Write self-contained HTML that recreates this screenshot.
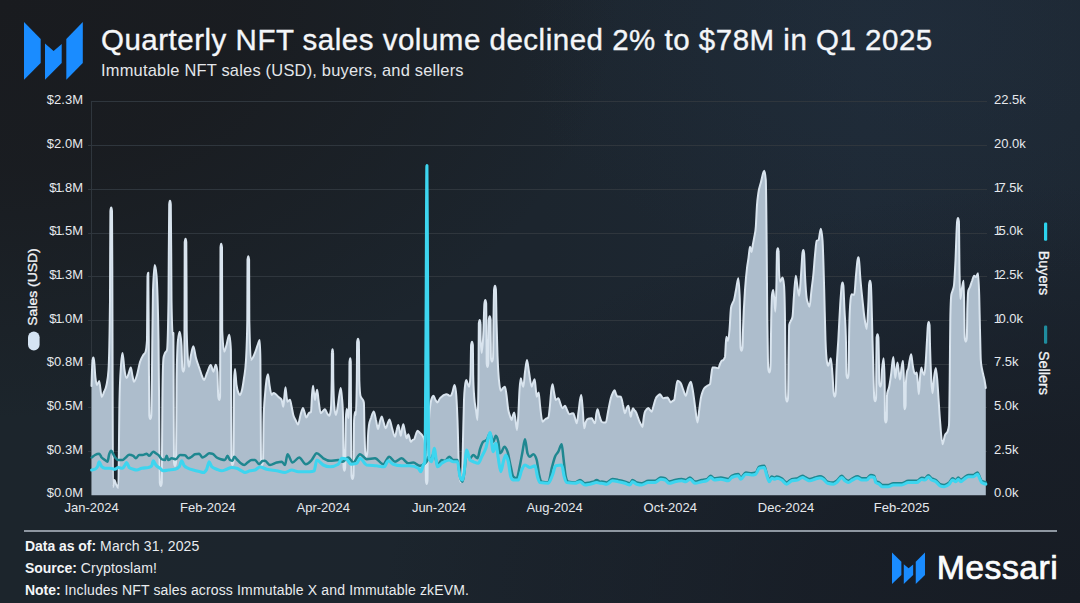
<!DOCTYPE html>
<html>
<head>
<meta charset="utf-8">
<title>Quarterly NFT sales volume</title>
<style>
html,body{margin:0;padding:0;}
body{width:1080px;height:603px;overflow:hidden;position:relative;
  font-family:"Liberation Sans",sans-serif;color:#f2f4f7;
  background:#1b222b;}
#bg{position:absolute;left:0;top:0;width:1080px;height:603px;
  background:
   radial-gradient(ellipse 420px 260px at 930px 30px, rgba(36,52,70,0.3) 0%, rgba(36,52,70,0) 100%),
   radial-gradient(ellipse 620px 420px at 0px 0px, rgba(25,27,31,1) 0%, rgba(25,27,31,0.85) 40%, rgba(25,27,31,0) 100%),
   radial-gradient(ellipse 700px 420px at 1080px 603px, rgba(23,28,36,1) 0%, rgba(23,28,36,0.8) 40%, rgba(23,28,36,0) 100%),
   linear-gradient(90deg,#1c252c 0%, #1c252e 50%, #1e2935 80%, #1d2732 100%);}
.abs{position:absolute;white-space:nowrap;}
#title{left:101px;top:22.8px;font-size:28.6px;line-height:34px;color:#f4f6f9;letter-spacing:0.5px;-webkit-text-stroke:0.35px #f4f6f9;transform-origin:0 50%;transform:scaleX(1.031);}
#subtitle{left:100.5px;top:59.6px;font-size:16.2px;line-height:20px;color:#e3e6ea;letter-spacing:0.2px;transform-origin:0 50%;transform:scaleX(1.016);}
.yl{position:absolute;right:997px;width:60px;text-align:right;font-size:13px;line-height:14px;color:#e6e9ed;white-space:nowrap;}
.yr{position:absolute;left:994px;font-size:13px;line-height:14px;color:#e6e9ed;white-space:nowrap;}
.n1{margin:0 -1.25px;}
.yr .n1{margin:0 -2.5px 0 -0.3px;}
.xl{position:absolute;top:500.6px;width:80px;margin-left:-40px;text-align:center;font-size:13px;line-height:14px;color:#e6e9ed;white-space:nowrap;}
.rot{position:absolute;font-size:14px;line-height:14px;color:#f2f4f7;white-space:nowrap;-webkit-text-stroke:0.3px #f2f4f7;}
#foot{position:absolute;left:25px;top:534.8px;letter-spacing:0.15px;font-size:14px;line-height:22px;color:#e9ecef;white-space:nowrap;}
#foot b{color:#f4f6f8;letter-spacing:-0.05px;}
#brand{position:absolute;left:936.7px;top:548.4px;font-size:33.8px;line-height:38px;color:#fbfcfd;-webkit-text-stroke:0.7px #fbfcfd;letter-spacing:0.45px;}
#sep{position:absolute;left:24px;top:530px;width:1033px;height:1.6px;background:#8e97a1;}
svg{position:absolute;left:0;top:0;}
</style>
</head>
<body>
<div id="bg"></div>

<!-- chart svg -->
<svg id="chart" width="1080" height="603" viewBox="0 0 1080 603">
  <g stroke="#2f363d" stroke-width="1" fill="none">
    <line x1="91" y1="101.5" x2="987" y2="101.5"/>
    <line x1="88" y1="145.5" x2="987" y2="145.5"/>
    <line x1="88" y1="189.5" x2="987" y2="189.5"/>
    <line x1="88" y1="233.5" x2="987" y2="233.5"/>
    <line x1="88" y1="276.5" x2="987" y2="276.5"/>
    <line x1="88" y1="320.5" x2="987" y2="320.5"/>
    <line x1="88" y1="364.5" x2="987" y2="364.5"/>
    <line x1="88" y1="407.5" x2="987" y2="407.5"/>
    <line x1="88" y1="451.5" x2="987" y2="451.5"/>
    <line x1="91.5" y1="101" x2="91.5" y2="495"/>
  </g>
  
  <path d="M91.5,386.0C91.8,377.7 92.1,363.6 92.5,361.0C92.7,358.7 93.0,357.5 93.3,357.5C93.6,357.5 93.9,358.9 94.1,361.0C94.6,364.3 95.0,374.0 95.5,378.0C96.0,382.4 96.5,385.0 97.0,385.0C97.7,385.0 98.5,381.0 99.2,381.0C100.0,381.0 100.9,397.0 101.7,397.0C102.5,397.0 103.2,393.9 104.0,392.0C104.8,389.9 105.7,389.5 106.5,385.0C107.2,381.4 107.8,380.0 108.5,370.0C109.0,362.5 109.5,346.7 110.0,300.0C110.1,289.1 110.2,212.0 110.4,211.0C110.6,208.7 110.9,207.5 111.2,207.5C111.5,207.5 111.8,208.7 112.0,211.0C112.2,212.0 112.3,267.9 112.4,300.0C112.6,355.1 112.8,487.0 113.0,487.0C113.5,487.0 114.0,480.0 114.5,480.0C115.0,480.0 115.5,482.8 116.0,484.0C116.8,485.8 117.5,488.0 118.3,488.0C118.7,488.0 119.1,418.7 119.5,400.0C120.0,376.7 120.5,372.8 121.0,365.0C121.5,357.2 122.0,353.0 122.5,353.0C123.2,353.0 123.8,365.9 124.5,370.0C125.2,374.5 126.0,378.0 126.7,378.0C127.3,378.0 127.9,375.5 128.5,374.0C129.3,372.1 130.0,367.5 130.8,367.5C131.4,367.5 131.9,373.5 132.5,376.0C133.0,378.2 133.5,381.7 134.0,381.7C135.0,381.7 136.0,378.3 137.0,375.0C138.0,371.7 139.0,365.3 140.0,362.0C141.1,358.4 142.2,356.8 143.3,355.0C144.0,353.8 144.8,354.0 145.5,352.0C146.0,350.6 146.5,348.0 147.0,340.0C147.2,337.6 147.3,277.5 147.5,276.3C147.7,274.0 148.0,272.8 148.3,272.8C148.5,272.8 148.6,318.4 148.8,340.0C148.9,366.4 149.1,414.2 149.3,415.5C149.6,417.8 150.0,419.0 150.3,419.0C150.6,419.0 151.0,417.8 151.3,415.5C151.5,414.2 151.7,392.6 151.9,380.0C152.2,353.6 152.6,301.3 153.0,290.0C153.6,273.3 154.1,265.0 154.7,265.0C155.3,265.0 155.9,268.3 156.5,275.0C157.2,282.4 157.8,296.7 158.5,340.0C158.8,356.2 159.0,392.3 159.2,420.0C159.4,440.3 159.6,481.2 159.8,482.5C160.1,484.8 160.5,486.0 160.8,486.0C161.1,486.0 161.5,484.8 161.8,482.5C162.0,481.2 162.2,413.4 162.4,400.0C162.7,372.0 163.1,360.6 163.5,358.0C164.0,354.7 164.5,354.3 165.0,353.0C165.7,351.3 166.3,352.0 167.0,350.0C167.5,348.5 168.0,333.3 168.5,300.0C168.7,285.6 168.9,206.1 169.2,204.3C169.4,202.0 169.7,200.8 170.0,200.8C170.3,200.8 170.6,202.0 170.8,204.3C171.1,206.1 171.3,288.0 171.5,300.0C171.9,324.0 172.4,336.0 172.8,336.0C173.0,336.0 173.2,333.0 173.4,333.0C173.6,333.0 173.8,461.2 174.0,462.5C174.3,464.8 174.7,466.0 175.0,466.0C175.3,466.0 175.7,464.8 176.0,462.5C176.2,461.2 176.4,390.1 176.6,380.0C177.0,353.3 177.5,344.7 178.0,340.0C178.6,334.5 179.1,331.7 179.7,331.7C180.3,331.7 180.9,336.1 181.5,345.0C181.8,348.9 182.0,366.3 182.3,368.2C182.6,370.5 183.0,371.7 183.3,371.7C183.6,371.7 184.0,370.5 184.3,368.2C184.4,367.7 184.4,351.0 184.5,330.0C184.6,309.0 184.6,242.8 184.7,242.2C185.0,239.9 185.2,238.7 185.5,238.7C185.8,238.7 186.1,239.9 186.3,242.2C186.5,243.2 186.6,324.6 186.7,330.0C187.1,350.0 187.6,354.2 188.0,360.0C188.3,364.5 188.7,366.7 189.0,366.7C189.7,366.7 190.3,358.3 191.0,355.0C191.8,351.3 192.5,346.3 193.3,346.3C194.2,346.3 195.1,354.6 196.0,358.0C197.3,363.1 198.7,366.0 200.0,370.0C200.7,372.0 201.3,374.3 202.0,376.0C202.7,377.7 203.3,380.0 204.0,380.0C205.0,380.0 206.0,375.2 207.0,373.0C208.3,370.2 209.5,365.0 210.8,365.0C211.6,365.0 212.5,371.7 213.3,371.7C214.1,371.7 215.0,364.7 215.8,364.7C216.4,364.7 216.9,367.1 217.5,372.0C217.7,374.0 218.0,394.9 218.2,396.5C218.5,398.8 218.9,400.0 219.2,400.0C219.5,400.0 219.8,398.8 220.1,396.5C220.2,396.0 220.2,354.9 220.3,330.0C220.4,305.1 220.4,248.0 220.5,247.3C220.7,245.0 221.0,243.8 221.2,243.8C221.5,243.8 221.7,245.0 222.0,247.3C222.1,247.9 222.1,328.6 222.2,330.0C222.9,344.5 223.5,351.7 224.2,351.7C225.0,351.7 225.7,347.6 226.5,345.0C227.4,342.0 228.3,334.7 229.2,334.7C229.8,334.7 230.4,339.8 230.9,350.0C231.1,353.2 231.3,460.2 231.5,461.5C231.8,463.8 232.2,465.0 232.5,465.0C232.8,465.0 233.2,463.8 233.5,461.5C233.7,460.2 233.9,384.2 234.1,380.0C234.4,372.7 234.7,369.0 235.0,369.0C235.5,369.0 236.0,381.1 236.5,385.0C237.2,390.2 237.8,391.3 238.5,393.0C239.0,394.2 239.5,395.0 240.0,395.0C240.7,395.0 241.3,392.8 242.0,390.0C242.7,387.2 243.3,383.0 244.0,378.0C244.7,373.0 245.3,372.0 246.0,360.0C246.4,352.2 246.9,346.7 247.3,320.0C247.4,315.9 247.4,260.3 247.5,259.7C247.8,257.4 248.0,256.2 248.3,256.2C248.6,256.2 248.8,257.4 249.1,259.7C249.2,260.3 249.2,316.9 249.3,320.0C249.9,346.7 250.4,360.0 251.0,360.0C251.8,360.0 252.5,358.2 253.3,356.7C254.2,355.0 255.1,352.5 256.0,350.0C256.7,348.1 257.3,345.8 258.0,344.0C258.6,342.5 259.1,340.0 259.7,340.0C259.9,340.0 260.2,346.7 260.4,360.0C260.6,369.8 260.8,460.2 261.0,461.5C261.3,463.8 261.7,465.0 262.0,465.0C262.3,465.0 262.7,463.8 263.0,461.5C263.2,460.2 263.4,426.3 263.6,420.0C264.0,403.3 264.5,401.6 265.0,395.0C265.5,388.2 266.0,383.5 266.5,380.0C267.0,376.5 267.5,374.2 268.0,374.2C268.5,374.2 269.0,381.9 269.5,385.0C270.2,389.5 271.0,395.0 271.7,395.0C272.3,395.0 272.9,393.0 273.5,393.0C274.3,393.0 275.0,393.6 275.8,394.2C276.7,394.9 277.6,396.1 278.5,397.0C279.6,398.1 280.6,398.0 281.7,400.0C282.2,401.0 282.8,406.7 283.3,406.7C283.7,406.7 284.1,398.5 284.5,395.0C284.8,392.1 285.2,387.2 285.5,387.2C285.8,387.2 286.2,393.6 286.5,396.0C286.8,398.4 287.2,401.7 287.5,401.7C288.3,401.7 289.2,399.7 290.0,399.7C290.5,399.7 291.0,403.7 291.5,406.0C292.1,408.7 292.7,412.7 293.3,415.0C294.0,417.8 294.8,418.5 295.5,420.0C296.3,421.7 297.2,424.5 298.0,424.5C298.8,424.5 299.7,417.8 300.5,415.0C301.3,412.2 302.2,408.0 303.0,408.0C303.5,408.0 304.0,410.6 304.5,412.0C305.1,413.7 305.7,417.5 306.3,417.5C307.2,417.5 308.1,413.9 309.0,413.0C309.7,412.3 310.3,412.7 311.0,412.0C311.3,411.7 311.7,399.4 312.0,395.0C312.3,390.6 312.7,385.8 313.0,385.8C313.3,385.8 313.7,390.6 314.0,393.0C314.3,395.4 314.7,400.0 315.0,400.0C315.3,400.0 315.7,395.6 316.0,394.0C316.4,392.0 316.8,389.7 317.2,389.7C317.6,389.7 318.1,396.9 318.5,400.0C319.3,405.5 320.0,413.3 320.8,413.3C321.5,413.3 322.3,411.7 323.0,411.0C323.7,410.4 324.3,409.2 325.0,409.2C325.7,409.2 326.3,411.9 327.0,413.0C327.7,414.2 328.5,415.8 329.2,415.8C329.7,415.8 330.3,413.9 330.8,410.0C331.1,407.8 331.4,400.0 331.7,380.0C331.8,375.6 331.8,353.5 331.9,352.7C332.1,350.4 332.3,349.2 332.5,349.2C332.7,349.2 332.9,350.4 333.1,352.7C333.2,353.5 333.2,376.3 333.3,380.0C333.6,396.7 333.9,401.3 334.2,405.0C334.7,411.7 335.3,415.0 335.8,415.0C336.4,415.0 336.9,411.2 337.5,408.0C338.1,404.6 338.7,398.5 339.3,395.0C339.8,392.1 340.3,388.0 340.8,388.0C341.2,388.0 341.6,393.0 342.0,398.0C342.3,401.7 342.6,402.7 342.9,412.0C343.1,417.2 343.2,436.1 343.4,450.0C343.5,455.6 343.5,466.7 343.6,467.3C343.9,469.6 344.1,470.8 344.4,470.8C344.7,470.8 344.9,469.6 345.2,467.3C345.3,466.7 345.3,455.3 345.4,450.0C345.6,436.7 345.7,421.7 345.9,418.0C346.2,412.0 346.4,409.0 346.7,409.0C347.0,409.0 347.4,411.2 347.7,413.0C348.0,414.4 348.2,418.0 348.5,418.0C348.8,418.0 349.0,407.0 349.3,385.0C349.4,379.5 349.4,362.4 349.5,361.8C349.8,359.5 350.0,358.3 350.3,358.3C350.4,358.3 350.6,359.5 350.8,361.8C350.8,362.8 350.9,380.3 350.9,390.0C351.1,416.6 351.3,474.2 351.5,475.5C351.8,477.8 352.2,479.0 352.5,479.0C352.8,479.0 353.2,477.8 353.5,475.5C353.7,474.2 353.9,423.1 354.1,420.0C354.4,414.7 354.7,412.0 355.0,412.0C355.3,412.0 355.5,415.0 355.8,415.0C356.1,415.0 356.5,403.3 356.8,380.0C356.9,371.8 357.0,343.2 357.1,342.2C357.4,339.9 357.7,338.7 358.0,338.7C358.3,338.7 358.6,339.9 358.9,342.2C359.0,343.4 359.2,376.0 359.3,380.0C359.7,390.7 360.1,394.5 360.5,396.0C360.9,397.5 361.3,397.7 361.7,398.3C362.1,399.0 362.6,398.9 363.0,400.0C363.3,400.8 363.6,401.0 363.9,403.0C364.1,404.3 364.3,424.2 364.5,432.0C364.8,442.4 365.0,451.0 365.3,453.0C365.6,455.5 366.0,456.7 366.3,456.7C366.6,456.7 367.0,455.5 367.3,453.0C367.5,451.3 367.8,440.4 368.0,436.0C368.3,429.7 368.7,427.3 369.0,425.0C369.7,420.3 370.3,420.0 371.0,418.0C371.9,415.2 372.9,411.5 373.8,411.5C374.5,411.5 375.3,416.9 376.0,420.0C376.7,422.8 377.3,429.0 378.0,429.0C378.7,429.0 379.3,423.2 380.0,421.0C380.6,419.1 381.1,416.5 381.7,416.5C382.3,416.5 382.9,420.3 383.5,422.0C384.3,424.2 385.0,428.3 385.8,428.3C386.5,428.3 387.1,424.6 387.8,423.0C388.4,421.7 388.9,419.5 389.5,419.5C390.3,419.5 391.2,425.4 392.0,428.0C393.0,431.2 394.0,436.7 395.0,436.7C395.6,436.7 396.1,432.0 396.7,430.0C397.2,428.1 397.8,425.0 398.3,425.0C398.7,425.0 399.1,428.3 399.5,430.0C399.9,431.9 400.4,435.8 400.8,435.8C401.2,435.8 401.6,430.9 402.0,429.0C402.4,427.0 402.9,424.2 403.3,424.2C403.9,424.2 404.4,429.6 405.0,432.0C405.6,434.4 406.1,438.3 406.7,438.3C407.2,438.3 407.8,434.2 408.3,434.2C409.1,434.2 410.0,441.7 410.8,441.7C411.4,441.7 411.9,440.4 412.5,440.0C413.1,439.6 413.6,439.7 414.2,439.2C414.8,438.6 415.4,435.5 416.0,434.0C416.5,432.8 417.0,430.8 417.5,430.8C418.3,430.8 419.2,432.2 420.0,433.0C420.8,433.8 421.7,434.4 422.5,435.8C423.2,436.9 423.8,437.2 424.5,440.0C424.9,441.7 425.3,446.7 425.7,460.0C425.8,462.2 425.8,479.9 425.9,480.5C426.2,482.8 426.4,484.0 426.7,484.0C427.0,484.0 427.2,482.8 427.5,480.5C427.6,479.9 427.6,464.1 427.7,460.0C428.1,433.3 428.6,428.7 429.0,420.0C429.6,408.0 430.2,405.8 430.8,402.0C431.3,398.8 431.8,398.0 432.3,397.0C432.7,396.2 433.1,395.8 433.5,395.8C434.2,395.8 434.8,398.9 435.5,400.0C436.2,401.1 436.8,402.5 437.5,402.5C438.2,402.5 438.8,399.9 439.5,399.0C440.2,398.0 441.0,397.4 441.7,396.7C442.5,396.0 443.2,395.4 444.0,395.0C444.9,394.5 445.8,394.2 446.7,394.2C447.5,394.2 448.2,395.2 449.0,395.5C449.6,395.7 450.2,395.8 450.8,395.8C451.4,395.8 451.9,393.6 452.5,392.0C453.2,390.1 453.8,385.0 454.5,385.0C455.0,385.0 455.5,387.3 456.0,392.0C456.5,396.7 457.0,407.0 457.5,420.0C458.0,433.0 458.5,462.0 459.0,470.0C459.5,478.0 460.0,482.0 460.5,482.0C461.0,482.0 461.5,480.7 462.0,478.0C462.3,476.2 462.7,453.0 463.0,440.0C463.3,427.0 463.7,409.0 464.0,400.0C464.3,391.0 464.7,389.1 465.0,386.0C465.4,382.0 465.9,380.0 466.3,380.0C466.8,380.0 467.3,382.9 467.8,384.0C468.3,385.1 468.7,386.7 469.2,386.7C469.6,386.7 470.1,382.8 470.5,375.0C470.7,371.1 470.9,347.0 471.1,345.2C471.4,342.9 471.7,341.7 472.0,341.7C472.3,341.7 472.6,342.9 472.9,345.2C473.0,346.2 473.1,369.9 473.2,375.0C473.5,389.5 473.9,391.8 474.2,396.7C474.8,405.6 475.4,405.8 476.0,410.0C476.5,413.5 477.0,420.0 477.5,420.0C477.8,420.0 478.2,406.7 478.5,380.0C478.6,370.7 478.7,324.5 478.8,323.5C479.1,321.2 479.4,320.0 479.7,320.0C480.0,320.0 480.2,321.2 480.5,323.5C480.6,324.1 480.6,338.3 480.7,340.0C481.0,348.7 481.4,353.0 481.7,353.0C482.3,353.0 482.9,343.6 483.5,330.0C483.8,322.8 484.1,306.1 484.4,303.5C484.7,301.2 485.0,300.0 485.3,300.0C485.6,300.0 485.9,301.2 486.2,303.5C486.3,304.5 486.4,326.9 486.5,340.0C486.6,347.5 486.6,362.9 486.7,363.5C487.0,365.8 487.2,367.0 487.5,367.0C487.8,367.0 488.0,365.8 488.3,363.5C488.4,362.9 488.4,346.4 488.5,340.0C488.6,328.8 488.7,320.8 488.8,319.8C489.1,317.5 489.4,316.3 489.7,316.3C490.0,316.3 490.3,317.5 490.6,319.8C490.6,320.5 490.7,332.8 490.8,340.0C490.9,345.8 490.9,357.7 491.0,358.2C491.3,360.5 491.7,361.7 492.0,361.7C492.3,361.7 492.7,360.5 493.0,358.2C493.2,357.0 493.3,330.6 493.5,320.0C493.7,306.2 493.9,291.1 494.1,289.3C494.4,287.0 494.7,285.8 495.0,285.8C495.3,285.8 495.6,287.0 495.9,289.3C496.1,291.1 496.3,310.8 496.5,320.0C496.8,334.1 497.2,345.9 497.5,355.0C497.8,362.2 498.0,367.2 498.3,371.7C498.7,378.5 499.1,381.8 499.5,385.0C499.9,388.4 500.4,390.8 500.8,390.8C501.5,390.8 502.3,388.7 503.0,388.0C503.7,387.4 504.3,386.7 505.0,386.7C505.5,386.7 506.0,391.6 506.5,395.0C507.1,399.1 507.7,406.5 508.3,410.0C508.9,413.3 509.4,414.3 510.0,416.0C510.6,417.7 511.1,420.0 511.7,420.0C512.1,420.0 512.6,416.3 513.0,415.0C513.4,413.8 513.8,412.5 514.2,412.5C514.6,412.5 515.1,417.3 515.5,420.0C516.0,423.1 516.5,430.0 517.0,430.0C517.4,430.0 517.9,422.1 518.3,415.0C518.7,408.5 519.1,396.1 519.5,390.0C519.9,383.4 520.4,378.3 520.8,378.3C521.2,378.3 521.6,381.6 522.0,383.0C522.4,384.5 522.9,386.7 523.3,386.7C523.9,386.7 524.4,376.2 525.0,372.0C525.7,367.0 526.3,360.0 527.0,360.0C527.7,360.0 528.3,368.2 529.0,372.0C529.9,377.2 530.8,386.7 531.7,386.7C532.2,386.7 532.8,383.3 533.3,382.0C533.8,380.9 534.2,379.2 534.7,379.2C535.0,379.2 535.4,385.1 535.7,388.0C536.0,390.9 536.4,396.7 536.7,396.7C537.4,396.7 538.0,392.5 538.7,392.5C539.1,392.5 539.6,401.3 540.0,405.0C540.8,412.2 541.7,421.7 542.5,421.7C543.5,421.7 544.5,419.7 545.5,419.0C546.4,418.3 547.4,418.5 548.3,417.5C548.9,416.9 549.4,410.5 550.0,405.0C550.4,400.8 550.9,393.5 551.3,390.0C551.7,386.8 552.1,384.2 552.5,384.2C553.0,384.2 553.5,389.6 554.0,392.0C554.6,394.9 555.2,400.0 555.8,400.0C556.6,400.0 557.5,398.3 558.3,398.3C559.0,398.3 559.8,402.3 560.5,404.0C561.2,405.6 561.8,408.3 562.5,408.3C563.3,408.3 564.2,405.8 565.0,405.8C565.7,405.8 566.3,408.7 567.0,410.0C567.7,411.5 568.5,414.2 569.2,414.2C570.0,414.2 570.7,413.7 571.5,413.5C572.1,413.4 572.7,413.3 573.3,413.3C573.9,413.3 574.4,416.3 575.0,418.0C575.6,419.7 576.1,423.3 576.7,423.3C577.3,423.3 577.9,416.3 578.5,412.0C579.0,408.4 579.5,402.9 580.0,400.0C580.4,397.5 580.9,395.0 581.3,395.0C581.8,395.0 582.3,404.2 582.8,410.0C583.3,415.4 583.7,428.3 584.2,428.3C584.7,428.3 585.3,423.5 585.8,422.0C586.4,420.4 586.9,419.6 587.5,419.2C588.2,418.7 588.8,418.6 589.5,418.5C590.2,418.4 591.0,418.3 591.7,418.3C592.2,418.3 592.8,420.2 593.3,421.0C593.9,421.9 594.4,423.3 595.0,423.3C595.4,423.3 595.9,416.4 596.3,414.0C596.7,411.8 597.1,409.2 597.5,409.2C598.2,409.2 598.8,414.0 599.5,416.0C600.2,418.2 601.0,421.1 601.7,421.7C602.4,422.2 603.0,422.5 603.7,422.5C604.4,422.5 605.1,422.5 605.8,422.5C606.5,422.5 607.3,415.5 608.0,412.0C608.9,407.5 609.9,401.7 610.8,398.3C611.5,395.6 612.3,393.9 613.0,392.5C613.6,391.4 614.1,390.3 614.7,390.3C615.1,390.3 615.6,393.0 616.0,394.0C616.5,395.2 617.0,396.7 617.5,396.7C618.0,396.7 618.5,396.5 619.0,396.5C619.6,396.5 620.2,396.6 620.8,396.7C621.5,396.9 622.3,402.1 623.0,405.0C623.7,407.6 624.3,413.3 625.0,413.3C625.6,413.3 626.1,409.3 626.7,408.0C627.2,406.8 627.8,405.8 628.3,405.8C628.7,405.8 629.1,409.3 629.5,411.0C629.9,412.9 630.4,416.7 630.8,416.7C631.2,416.7 631.6,412.5 632.0,411.0C632.3,409.8 632.7,408.3 633.0,408.3C633.5,408.3 634.0,409.9 634.5,410.5C634.9,411.0 635.4,411.0 635.8,411.7C636.4,412.6 636.9,414.5 637.5,416.0C638.1,417.5 638.6,419.4 639.2,420.8C639.8,422.3 640.4,423.4 641.0,424.5C641.5,425.4 642.0,427.0 642.5,427.0C642.9,427.0 643.3,420.6 643.7,418.0C644.0,415.9 644.4,413.6 644.7,412.5C645.3,410.5 645.9,410.2 646.5,409.5C647.1,408.8 647.7,408.0 648.3,408.0C648.9,408.0 649.4,409.4 650.0,410.0C650.6,410.6 651.1,411.7 651.7,411.7C652.3,411.7 652.9,407.9 653.5,406.0C654.3,403.5 655.0,400.1 655.8,398.3C656.5,396.6 657.3,396.2 658.0,395.5C658.7,394.9 659.3,394.2 660.0,394.2C660.6,394.2 661.1,395.8 661.7,396.5C662.2,397.2 662.8,398.3 663.3,398.3C664.0,398.3 664.8,397.9 665.5,397.8C666.2,397.7 666.8,397.5 667.5,397.5C668.1,397.5 668.6,399.1 669.2,400.0C669.7,400.8 670.3,402.5 670.8,402.5C671.4,402.5 671.9,401.4 672.5,401.0C673.1,400.6 673.6,400.7 674.2,400.0C674.6,399.5 675.1,394.6 675.5,392.0C676.2,388.0 676.8,380.8 677.5,380.8C678.1,380.8 678.6,381.1 679.2,381.5C679.7,381.9 680.3,382.4 680.8,383.3C681.6,384.7 682.5,387.9 683.3,390.0C684.1,392.1 685.0,395.8 685.8,395.8C686.5,395.8 687.3,390.2 688.0,388.0C688.9,385.2 689.9,381.7 690.8,381.7C691.2,381.7 691.6,384.2 692.0,386.0C692.4,388.0 692.9,390.5 693.3,393.3C694.0,398.0 694.8,404.9 695.5,410.0C696.2,414.6 696.8,422.5 697.5,422.5C698.1,422.5 698.6,414.2 699.2,410.0C699.7,406.1 700.3,401.3 700.8,398.3C701.4,395.1 701.9,393.7 702.5,392.0C703.1,390.3 703.6,389.2 704.2,388.3C705.1,386.8 706.1,386.7 707.0,386.0C708.0,385.3 709.0,385.4 710.0,384.2C710.4,383.7 710.9,377.9 711.3,375.0C711.7,372.3 712.1,367.5 712.5,367.5C713.3,367.5 714.2,367.5 715.0,367.5C716.1,367.5 717.2,368.3 718.3,368.3C718.9,368.3 719.4,365.2 720.0,364.0C720.6,362.8 721.1,361.4 721.7,360.8C722.2,360.3 722.8,360.5 723.3,360.0C723.9,359.4 724.4,358.9 725.0,356.7C725.4,355.0 725.9,336.7 726.3,336.7C726.9,336.7 727.4,341.0 728.0,341.0C728.5,341.0 729.0,335.5 729.5,330.0C730.0,324.5 730.5,311.1 731.0,308.0C731.5,304.9 732.0,304.6 732.5,303.3C733.0,302.0 733.5,301.7 734.0,300.0C734.7,297.7 735.3,293.4 736.0,290.0C736.8,286.1 737.5,278.3 738.3,278.3C738.8,278.3 739.3,285.5 739.8,300.0C740.0,306.8 740.3,345.7 740.5,347.3C740.8,349.6 741.2,350.8 741.5,350.8C741.8,350.8 742.2,349.6 742.5,347.3C742.7,346.1 742.8,335.3 743.0,330.0C743.7,308.9 744.3,300.3 745.0,290.0C745.7,279.7 746.3,273.7 747.0,268.0C747.5,263.7 748.0,261.6 748.5,258.0C749.0,254.4 749.5,246.7 750.0,246.7C750.5,246.7 751.0,252.0 751.5,252.0C751.9,252.0 752.4,247.3 752.8,245.0C753.3,242.5 753.7,240.3 754.2,237.5C754.7,234.3 755.3,233.8 755.8,226.7C756.2,221.4 756.6,210.5 757.0,205.0C757.4,199.1 757.9,196.5 758.3,193.3C759.2,186.6 760.1,185.5 761.0,182.0C762.1,177.9 763.1,170.8 764.2,170.8C764.7,170.8 765.3,173.9 765.8,180.0C766.1,183.5 766.4,219.7 766.7,250.0C766.9,270.2 767.1,302.0 767.3,320.0C767.5,338.0 767.7,349.6 767.9,358.0C768.0,363.6 768.2,368.1 768.3,369.0C768.6,371.3 769.0,372.5 769.3,372.5C769.6,372.5 770.0,371.3 770.3,369.0C770.4,368.1 770.6,364.5 770.7,358.0C770.9,349.8 771.0,329.8 771.2,320.0C771.5,304.3 771.7,297.1 772.0,295.0C772.4,291.7 772.9,290.0 773.3,290.0C773.6,290.0 774.0,296.4 774.3,300.0C774.6,303.6 775.0,311.7 775.3,311.7C775.7,311.7 776.1,301.1 776.5,280.0C776.6,272.1 776.8,253.0 776.9,251.8C777.2,249.5 777.5,248.3 777.8,248.3C778.1,248.3 778.4,249.5 778.6,251.8C778.8,252.8 778.9,267.3 779.0,270.0C779.3,277.8 779.7,281.7 780.0,281.7C780.4,281.7 780.8,280.7 781.2,280.0C781.6,279.3 782.1,277.5 782.5,277.5C783.0,277.5 783.5,280.0 784.0,285.0C784.3,288.3 784.7,296.7 785.0,320.0C785.1,330.5 785.3,357.4 785.5,370.0C785.6,385.4 785.8,396.9 786.0,398.2C786.3,400.5 786.7,401.7 787.0,401.7C787.3,401.7 787.7,400.5 788.0,398.2C788.2,396.9 788.4,371.4 788.5,360.0C788.8,346.5 789.0,326.1 789.2,325.0C789.7,322.3 790.3,322.3 790.8,321.0C791.4,319.6 791.9,319.6 792.5,316.7C793.0,314.2 793.5,301.4 794.0,295.0C794.6,287.4 795.2,275.8 795.8,275.8C796.4,275.8 796.9,283.7 797.5,287.0C798.1,290.3 798.6,295.8 799.2,295.8C799.8,295.8 800.4,283.0 801.0,275.0C801.5,268.5 802.0,257.4 802.4,253.5C802.7,251.2 803.0,250.0 803.3,250.0C803.6,250.0 803.9,251.2 804.1,253.5C804.4,255.8 804.7,268.9 805.0,275.0C805.6,287.1 806.1,294.2 806.7,298.3C807.1,301.4 807.6,301.7 808.0,303.0C808.5,304.5 809.0,306.7 809.5,306.7C810.2,306.7 810.8,295.6 811.5,290.0C812.1,285.0 812.7,281.1 813.3,275.0C813.9,269.3 814.4,260.7 815.0,255.0C815.6,249.3 816.1,241.3 816.7,240.8C817.3,240.3 817.9,240.5 818.5,240.0C819.3,239.3 820.0,228.7 820.8,228.7C821.4,228.7 821.9,232.5 822.5,240.0C823.1,247.5 823.6,270.4 824.2,290.0C824.6,305.0 825.1,328.1 825.5,340.0C826.0,353.7 826.5,359.1 827.0,362.0C827.4,364.5 827.9,365.8 828.3,365.8C828.7,365.8 829.1,363.2 829.5,362.0C829.9,360.7 830.4,358.3 830.8,358.3C831.4,358.3 831.9,367.7 832.5,375.0C832.9,380.2 833.3,390.4 833.7,393.2C834.0,395.5 834.4,396.7 834.7,396.7C835.0,396.7 835.4,395.5 835.7,393.2C836.0,391.3 836.2,376.7 836.5,370.0C837.1,354.9 837.7,350.4 838.3,340.0C839.0,327.3 839.8,310.4 840.5,300.0C840.9,294.5 841.3,288.9 841.6,286.0C841.9,283.9 842.2,282.5 842.5,282.5C842.8,282.5 843.1,283.7 843.4,286.0C843.7,289.2 844.1,301.7 844.5,310.0C845.0,320.5 845.5,321.0 846.0,343.0C846.1,351.3 846.3,373.5 846.5,374.8C846.8,377.1 847.2,378.3 847.5,378.3C847.8,378.3 848.2,377.1 848.5,374.8C848.7,373.2 849.0,340.8 849.2,330.0C849.6,310.0 850.1,304.2 850.5,300.0C850.9,296.1 851.3,294.2 851.7,294.2C852.5,294.2 853.4,295.0 854.2,295.0C854.8,295.0 855.4,281.2 856.0,275.0C856.5,270.0 857.0,263.8 857.4,260.8C857.7,259.0 858.0,257.3 858.3,257.3C858.6,257.3 858.9,258.5 859.1,260.8C859.6,264.4 860.0,274.4 860.5,280.0C861.2,288.3 861.8,293.7 862.5,300.0C863.2,306.3 863.8,313.3 864.5,318.0C865.2,323.2 866.0,329.0 866.7,329.0C867.3,329.0 867.9,313.2 868.5,300.0C868.7,295.2 868.9,286.1 869.1,284.3C869.4,282.0 869.7,280.8 870.0,280.8C870.3,280.8 870.6,282.0 870.9,284.3C871.1,286.1 871.3,293.4 871.5,300.0C871.8,310.1 872.2,327.4 872.5,340.0C872.9,356.3 873.4,370.9 873.8,385.0C873.9,389.3 874.1,396.9 874.2,397.8C874.5,400.1 874.9,401.3 875.2,401.3C875.5,401.3 875.8,400.1 876.1,397.8C876.2,397.3 876.2,378.1 876.3,370.0C876.4,355.8 876.5,338.7 876.6,337.7C876.9,335.4 877.2,334.2 877.5,334.2C877.8,334.2 878.1,335.4 878.4,337.7C878.6,339.5 878.8,353.1 879.0,365.0C879.1,370.5 879.2,382.5 879.3,383.2C879.6,385.5 880.0,386.7 880.3,386.7C880.6,386.7 881.0,385.5 881.3,383.2C881.5,381.6 881.8,373.2 882.0,370.0C882.6,362.2 883.1,358.3 883.7,358.3C884.0,358.3 884.4,367.2 884.7,385.0C884.8,388.6 884.8,418.5 884.9,419.0C885.2,421.3 885.5,422.5 885.8,422.5C886.1,422.5 886.5,421.3 886.8,419.0C886.9,418.5 886.9,395.5 887.0,395.0C887.7,389.5 888.5,390.6 889.2,386.7C889.8,383.5 890.4,379.2 891.0,375.0C891.8,369.6 892.5,357.0 893.3,357.0C893.6,357.0 894.0,364.5 894.3,368.0C894.6,371.5 895.0,378.0 895.3,378.0C895.7,378.0 896.1,370.7 896.5,368.0C896.8,365.7 897.2,362.5 897.5,362.5C897.9,362.5 898.4,369.1 898.8,372.0C899.2,374.7 899.6,379.5 900.0,379.5C900.5,379.5 901.0,371.1 901.5,368.0C902.0,364.9 902.5,360.8 903.0,360.8C903.3,360.8 903.7,368.9 904.0,385.0C904.1,388.2 904.1,404.8 904.2,405.7C904.4,408.0 904.5,409.2 904.7,409.2C905.0,409.2 905.3,408.0 905.6,405.7C905.7,405.2 905.7,386.4 905.8,385.0C906.2,376.3 906.6,374.3 907.0,372.0C907.4,369.5 907.9,370.2 908.3,368.3C908.8,366.3 909.2,362.3 909.7,360.0C910.2,357.5 910.7,354.2 911.2,354.2C911.7,354.2 912.2,361.9 912.7,365.0C913.2,368.1 913.7,371.3 914.2,372.5C914.6,373.5 915.1,374.0 915.5,374.0C915.9,374.0 916.3,372.5 916.7,372.5C917.1,372.5 917.4,379.2 917.8,383.0C918.1,386.5 918.5,394.2 918.8,394.2C919.2,394.2 919.6,382.4 920.0,378.0C920.4,373.3 920.9,367.5 921.3,367.5C921.8,367.5 922.2,370.8 922.7,372.0C923.2,373.3 923.7,375.0 924.2,375.0C924.6,375.0 925.1,370.1 925.5,365.0C926.0,359.1 926.5,348.5 927.0,340.0C927.3,335.2 927.6,327.8 927.9,325.5C928.1,323.2 928.4,322.0 928.7,322.0C929.0,322.0 929.3,323.2 929.6,325.5C929.7,326.7 929.9,339.1 930.0,345.0C930.4,361.9 930.9,371.9 931.3,380.0C931.7,387.5 932.1,393.3 932.5,393.3C933.0,393.3 933.5,382.0 934.0,378.0C934.6,373.1 935.2,368.0 935.8,368.0C936.3,368.0 936.8,373.9 937.3,380.0C937.6,384.1 938.0,390.0 938.3,395.0C938.9,403.4 939.4,412.8 940.0,420.0C940.8,430.6 941.7,444.2 942.5,444.2C943.3,444.2 944.2,437.1 945.0,435.0C945.8,432.9 946.7,433.9 947.5,431.7C948.0,430.4 948.5,429.5 949.0,425.0C949.2,422.9 949.5,399.5 949.7,380.0C949.9,363.3 950.1,330.0 950.3,320.0C950.6,303.3 951.0,297.2 951.3,295.0C951.7,292.3 952.1,292.5 952.5,291.0C953.0,289.2 953.5,289.0 954.0,285.0C954.5,281.0 955.0,269.9 955.5,260.0C956.0,249.1 956.6,226.0 957.1,221.5C957.4,219.2 957.7,218.0 958.0,218.0C958.3,218.0 958.6,219.2 958.9,221.5C959.1,223.3 959.3,257.6 959.5,270.0C959.8,285.3 960.0,299.0 960.3,299.0C960.9,299.0 961.4,291.0 962.0,288.0C962.6,285.0 963.1,280.8 963.7,280.8C963.9,280.8 964.1,300.4 964.2,310.0C964.4,319.6 964.6,336.9 964.8,338.2C965.1,340.5 965.5,341.7 965.8,341.7C966.1,341.7 966.5,340.5 966.8,338.2C967.0,336.9 967.2,317.3 967.3,310.0C967.7,297.4 968.0,292.2 968.3,290.8C968.9,288.3 969.4,288.5 970.0,287.0C970.7,285.3 971.3,282.8 972.0,281.0C972.7,279.0 973.5,275.8 974.2,275.8C974.8,275.8 975.4,277.0 976.0,277.0C976.7,277.0 977.3,273.3 978.0,273.3C978.4,273.3 978.8,281.6 979.2,295.0C979.5,303.9 979.7,319.2 980.0,330.0C980.3,340.8 980.5,356.0 980.8,360.0C981.2,366.0 981.6,366.6 982.0,369.0C982.4,371.6 982.9,373.1 983.3,375.0C983.7,376.8 984.1,378.0 984.5,380.0C984.9,382.2 985.4,385.3 985.8,388.0L985.8,495.2L91.5,495.2Z" fill="#adbdcc" stroke="none"/>
  <path d="M91.5,386.0C91.8,377.7 92.1,363.6 92.5,361.0C92.7,358.7 93.0,357.5 93.3,357.5C93.6,357.5 93.9,358.9 94.1,361.0C94.6,364.3 95.0,374.0 95.5,378.0C96.0,382.4 96.5,385.0 97.0,385.0C97.7,385.0 98.5,381.0 99.2,381.0C100.0,381.0 100.9,397.0 101.7,397.0C102.5,397.0 103.2,393.9 104.0,392.0C104.8,389.9 105.7,389.5 106.5,385.0C107.2,381.4 107.8,380.0 108.5,370.0C109.0,362.5 109.5,346.7 110.0,300.0C110.1,289.1 110.2,212.0 110.4,211.0C110.6,208.7 110.9,207.5 111.2,207.5C111.5,207.5 111.8,208.7 112.0,211.0C112.2,212.0 112.3,267.9 112.4,300.0C112.6,355.1 112.8,487.0 113.0,487.0C113.5,487.0 114.0,480.0 114.5,480.0C115.0,480.0 115.5,482.8 116.0,484.0C116.8,485.8 117.5,488.0 118.3,488.0C118.7,488.0 119.1,418.7 119.5,400.0C120.0,376.7 120.5,372.8 121.0,365.0C121.5,357.2 122.0,353.0 122.5,353.0C123.2,353.0 123.8,365.9 124.5,370.0C125.2,374.5 126.0,378.0 126.7,378.0C127.3,378.0 127.9,375.5 128.5,374.0C129.3,372.1 130.0,367.5 130.8,367.5C131.4,367.5 131.9,373.5 132.5,376.0C133.0,378.2 133.5,381.7 134.0,381.7C135.0,381.7 136.0,378.3 137.0,375.0C138.0,371.7 139.0,365.3 140.0,362.0C141.1,358.4 142.2,356.8 143.3,355.0C144.0,353.8 144.8,354.0 145.5,352.0C146.0,350.6 146.5,348.0 147.0,340.0C147.2,337.6 147.3,277.5 147.5,276.3C147.7,274.0 148.0,272.8 148.3,272.8C148.5,272.8 148.6,318.4 148.8,340.0C148.9,366.4 149.1,414.2 149.3,415.5C149.6,417.8 150.0,419.0 150.3,419.0C150.6,419.0 151.0,417.8 151.3,415.5C151.5,414.2 151.7,392.6 151.9,380.0C152.2,353.6 152.6,301.3 153.0,290.0C153.6,273.3 154.1,265.0 154.7,265.0C155.3,265.0 155.9,268.3 156.5,275.0C157.2,282.4 157.8,296.7 158.5,340.0C158.8,356.2 159.0,392.3 159.2,420.0C159.4,440.3 159.6,481.2 159.8,482.5C160.1,484.8 160.5,486.0 160.8,486.0C161.1,486.0 161.5,484.8 161.8,482.5C162.0,481.2 162.2,413.4 162.4,400.0C162.7,372.0 163.1,360.6 163.5,358.0C164.0,354.7 164.5,354.3 165.0,353.0C165.7,351.3 166.3,352.0 167.0,350.0C167.5,348.5 168.0,333.3 168.5,300.0C168.7,285.6 168.9,206.1 169.2,204.3C169.4,202.0 169.7,200.8 170.0,200.8C170.3,200.8 170.6,202.0 170.8,204.3C171.1,206.1 171.3,288.0 171.5,300.0C171.9,324.0 172.4,336.0 172.8,336.0C173.0,336.0 173.2,333.0 173.4,333.0C173.6,333.0 173.8,461.2 174.0,462.5C174.3,464.8 174.7,466.0 175.0,466.0C175.3,466.0 175.7,464.8 176.0,462.5C176.2,461.2 176.4,390.1 176.6,380.0C177.0,353.3 177.5,344.7 178.0,340.0C178.6,334.5 179.1,331.7 179.7,331.7C180.3,331.7 180.9,336.1 181.5,345.0C181.8,348.9 182.0,366.3 182.3,368.2C182.6,370.5 183.0,371.7 183.3,371.7C183.6,371.7 184.0,370.5 184.3,368.2C184.4,367.7 184.4,351.0 184.5,330.0C184.6,309.0 184.6,242.8 184.7,242.2C185.0,239.9 185.2,238.7 185.5,238.7C185.8,238.7 186.1,239.9 186.3,242.2C186.5,243.2 186.6,324.6 186.7,330.0C187.1,350.0 187.6,354.2 188.0,360.0C188.3,364.5 188.7,366.7 189.0,366.7C189.7,366.7 190.3,358.3 191.0,355.0C191.8,351.3 192.5,346.3 193.3,346.3C194.2,346.3 195.1,354.6 196.0,358.0C197.3,363.1 198.7,366.0 200.0,370.0C200.7,372.0 201.3,374.3 202.0,376.0C202.7,377.7 203.3,380.0 204.0,380.0C205.0,380.0 206.0,375.2 207.0,373.0C208.3,370.2 209.5,365.0 210.8,365.0C211.6,365.0 212.5,371.7 213.3,371.7C214.1,371.7 215.0,364.7 215.8,364.7C216.4,364.7 216.9,367.1 217.5,372.0C217.7,374.0 218.0,394.9 218.2,396.5C218.5,398.8 218.9,400.0 219.2,400.0C219.5,400.0 219.8,398.8 220.1,396.5C220.2,396.0 220.2,354.9 220.3,330.0C220.4,305.1 220.4,248.0 220.5,247.3C220.7,245.0 221.0,243.8 221.2,243.8C221.5,243.8 221.7,245.0 222.0,247.3C222.1,247.9 222.1,328.6 222.2,330.0C222.9,344.5 223.5,351.7 224.2,351.7C225.0,351.7 225.7,347.6 226.5,345.0C227.4,342.0 228.3,334.7 229.2,334.7C229.8,334.7 230.4,339.8 230.9,350.0C231.1,353.2 231.3,460.2 231.5,461.5C231.8,463.8 232.2,465.0 232.5,465.0C232.8,465.0 233.2,463.8 233.5,461.5C233.7,460.2 233.9,384.2 234.1,380.0C234.4,372.7 234.7,369.0 235.0,369.0C235.5,369.0 236.0,381.1 236.5,385.0C237.2,390.2 237.8,391.3 238.5,393.0C239.0,394.2 239.5,395.0 240.0,395.0C240.7,395.0 241.3,392.8 242.0,390.0C242.7,387.2 243.3,383.0 244.0,378.0C244.7,373.0 245.3,372.0 246.0,360.0C246.4,352.2 246.9,346.7 247.3,320.0C247.4,315.9 247.4,260.3 247.5,259.7C247.8,257.4 248.0,256.2 248.3,256.2C248.6,256.2 248.8,257.4 249.1,259.7C249.2,260.3 249.2,316.9 249.3,320.0C249.9,346.7 250.4,360.0 251.0,360.0C251.8,360.0 252.5,358.2 253.3,356.7C254.2,355.0 255.1,352.5 256.0,350.0C256.7,348.1 257.3,345.8 258.0,344.0C258.6,342.5 259.1,340.0 259.7,340.0C259.9,340.0 260.2,346.7 260.4,360.0C260.6,369.8 260.8,460.2 261.0,461.5C261.3,463.8 261.7,465.0 262.0,465.0C262.3,465.0 262.7,463.8 263.0,461.5C263.2,460.2 263.4,426.3 263.6,420.0C264.0,403.3 264.5,401.6 265.0,395.0C265.5,388.2 266.0,383.5 266.5,380.0C267.0,376.5 267.5,374.2 268.0,374.2C268.5,374.2 269.0,381.9 269.5,385.0C270.2,389.5 271.0,395.0 271.7,395.0C272.3,395.0 272.9,393.0 273.5,393.0C274.3,393.0 275.0,393.6 275.8,394.2C276.7,394.9 277.6,396.1 278.5,397.0C279.6,398.1 280.6,398.0 281.7,400.0C282.2,401.0 282.8,406.7 283.3,406.7C283.7,406.7 284.1,398.5 284.5,395.0C284.8,392.1 285.2,387.2 285.5,387.2C285.8,387.2 286.2,393.6 286.5,396.0C286.8,398.4 287.2,401.7 287.5,401.7C288.3,401.7 289.2,399.7 290.0,399.7C290.5,399.7 291.0,403.7 291.5,406.0C292.1,408.7 292.7,412.7 293.3,415.0C294.0,417.8 294.8,418.5 295.5,420.0C296.3,421.7 297.2,424.5 298.0,424.5C298.8,424.5 299.7,417.8 300.5,415.0C301.3,412.2 302.2,408.0 303.0,408.0C303.5,408.0 304.0,410.6 304.5,412.0C305.1,413.7 305.7,417.5 306.3,417.5C307.2,417.5 308.1,413.9 309.0,413.0C309.7,412.3 310.3,412.7 311.0,412.0C311.3,411.7 311.7,399.4 312.0,395.0C312.3,390.6 312.7,385.8 313.0,385.8C313.3,385.8 313.7,390.6 314.0,393.0C314.3,395.4 314.7,400.0 315.0,400.0C315.3,400.0 315.7,395.6 316.0,394.0C316.4,392.0 316.8,389.7 317.2,389.7C317.6,389.7 318.1,396.9 318.5,400.0C319.3,405.5 320.0,413.3 320.8,413.3C321.5,413.3 322.3,411.7 323.0,411.0C323.7,410.4 324.3,409.2 325.0,409.2C325.7,409.2 326.3,411.9 327.0,413.0C327.7,414.2 328.5,415.8 329.2,415.8C329.7,415.8 330.3,413.9 330.8,410.0C331.1,407.8 331.4,400.0 331.7,380.0C331.8,375.6 331.8,353.5 331.9,352.7C332.1,350.4 332.3,349.2 332.5,349.2C332.7,349.2 332.9,350.4 333.1,352.7C333.2,353.5 333.2,376.3 333.3,380.0C333.6,396.7 333.9,401.3 334.2,405.0C334.7,411.7 335.3,415.0 335.8,415.0C336.4,415.0 336.9,411.2 337.5,408.0C338.1,404.6 338.7,398.5 339.3,395.0C339.8,392.1 340.3,388.0 340.8,388.0C341.2,388.0 341.6,393.0 342.0,398.0C342.3,401.7 342.6,402.7 342.9,412.0C343.1,417.2 343.2,436.1 343.4,450.0C343.5,455.6 343.5,466.7 343.6,467.3C343.9,469.6 344.1,470.8 344.4,470.8C344.7,470.8 344.9,469.6 345.2,467.3C345.3,466.7 345.3,455.3 345.4,450.0C345.6,436.7 345.7,421.7 345.9,418.0C346.2,412.0 346.4,409.0 346.7,409.0C347.0,409.0 347.4,411.2 347.7,413.0C348.0,414.4 348.2,418.0 348.5,418.0C348.8,418.0 349.0,407.0 349.3,385.0C349.4,379.5 349.4,362.4 349.5,361.8C349.8,359.5 350.0,358.3 350.3,358.3C350.4,358.3 350.6,359.5 350.8,361.8C350.8,362.8 350.9,380.3 350.9,390.0C351.1,416.6 351.3,474.2 351.5,475.5C351.8,477.8 352.2,479.0 352.5,479.0C352.8,479.0 353.2,477.8 353.5,475.5C353.7,474.2 353.9,423.1 354.1,420.0C354.4,414.7 354.7,412.0 355.0,412.0C355.3,412.0 355.5,415.0 355.8,415.0C356.1,415.0 356.5,403.3 356.8,380.0C356.9,371.8 357.0,343.2 357.1,342.2C357.4,339.9 357.7,338.7 358.0,338.7C358.3,338.7 358.6,339.9 358.9,342.2C359.0,343.4 359.2,376.0 359.3,380.0C359.7,390.7 360.1,394.5 360.5,396.0C360.9,397.5 361.3,397.7 361.7,398.3C362.1,399.0 362.6,398.9 363.0,400.0C363.3,400.8 363.6,401.0 363.9,403.0C364.1,404.3 364.3,424.2 364.5,432.0C364.8,442.4 365.0,451.0 365.3,453.0C365.6,455.5 366.0,456.7 366.3,456.7C366.6,456.7 367.0,455.5 367.3,453.0C367.5,451.3 367.8,440.4 368.0,436.0C368.3,429.7 368.7,427.3 369.0,425.0C369.7,420.3 370.3,420.0 371.0,418.0C371.9,415.2 372.9,411.5 373.8,411.5C374.5,411.5 375.3,416.9 376.0,420.0C376.7,422.8 377.3,429.0 378.0,429.0C378.7,429.0 379.3,423.2 380.0,421.0C380.6,419.1 381.1,416.5 381.7,416.5C382.3,416.5 382.9,420.3 383.5,422.0C384.3,424.2 385.0,428.3 385.8,428.3C386.5,428.3 387.1,424.6 387.8,423.0C388.4,421.7 388.9,419.5 389.5,419.5C390.3,419.5 391.2,425.4 392.0,428.0C393.0,431.2 394.0,436.7 395.0,436.7C395.6,436.7 396.1,432.0 396.7,430.0C397.2,428.1 397.8,425.0 398.3,425.0C398.7,425.0 399.1,428.3 399.5,430.0C399.9,431.9 400.4,435.8 400.8,435.8C401.2,435.8 401.6,430.9 402.0,429.0C402.4,427.0 402.9,424.2 403.3,424.2C403.9,424.2 404.4,429.6 405.0,432.0C405.6,434.4 406.1,438.3 406.7,438.3C407.2,438.3 407.8,434.2 408.3,434.2C409.1,434.2 410.0,441.7 410.8,441.7C411.4,441.7 411.9,440.4 412.5,440.0C413.1,439.6 413.6,439.7 414.2,439.2C414.8,438.6 415.4,435.5 416.0,434.0C416.5,432.8 417.0,430.8 417.5,430.8C418.3,430.8 419.2,432.2 420.0,433.0C420.8,433.8 421.7,434.4 422.5,435.8C423.2,436.9 423.8,437.2 424.5,440.0C424.9,441.7 425.3,446.7 425.7,460.0C425.8,462.2 425.8,479.9 425.9,480.5C426.2,482.8 426.4,484.0 426.7,484.0C427.0,484.0 427.2,482.8 427.5,480.5C427.6,479.9 427.6,464.1 427.7,460.0C428.1,433.3 428.6,428.7 429.0,420.0C429.6,408.0 430.2,405.8 430.8,402.0C431.3,398.8 431.8,398.0 432.3,397.0C432.7,396.2 433.1,395.8 433.5,395.8C434.2,395.8 434.8,398.9 435.5,400.0C436.2,401.1 436.8,402.5 437.5,402.5C438.2,402.5 438.8,399.9 439.5,399.0C440.2,398.0 441.0,397.4 441.7,396.7C442.5,396.0 443.2,395.4 444.0,395.0C444.9,394.5 445.8,394.2 446.7,394.2C447.5,394.2 448.2,395.2 449.0,395.5C449.6,395.7 450.2,395.8 450.8,395.8C451.4,395.8 451.9,393.6 452.5,392.0C453.2,390.1 453.8,385.0 454.5,385.0C455.0,385.0 455.5,387.3 456.0,392.0C456.5,396.7 457.0,407.0 457.5,420.0C458.0,433.0 458.5,462.0 459.0,470.0C459.5,478.0 460.0,482.0 460.5,482.0C461.0,482.0 461.5,480.7 462.0,478.0C462.3,476.2 462.7,453.0 463.0,440.0C463.3,427.0 463.7,409.0 464.0,400.0C464.3,391.0 464.7,389.1 465.0,386.0C465.4,382.0 465.9,380.0 466.3,380.0C466.8,380.0 467.3,382.9 467.8,384.0C468.3,385.1 468.7,386.7 469.2,386.7C469.6,386.7 470.1,382.8 470.5,375.0C470.7,371.1 470.9,347.0 471.1,345.2C471.4,342.9 471.7,341.7 472.0,341.7C472.3,341.7 472.6,342.9 472.9,345.2C473.0,346.2 473.1,369.9 473.2,375.0C473.5,389.5 473.9,391.8 474.2,396.7C474.8,405.6 475.4,405.8 476.0,410.0C476.5,413.5 477.0,420.0 477.5,420.0C477.8,420.0 478.2,406.7 478.5,380.0C478.6,370.7 478.7,324.5 478.8,323.5C479.1,321.2 479.4,320.0 479.7,320.0C480.0,320.0 480.2,321.2 480.5,323.5C480.6,324.1 480.6,338.3 480.7,340.0C481.0,348.7 481.4,353.0 481.7,353.0C482.3,353.0 482.9,343.6 483.5,330.0C483.8,322.8 484.1,306.1 484.4,303.5C484.7,301.2 485.0,300.0 485.3,300.0C485.6,300.0 485.9,301.2 486.2,303.5C486.3,304.5 486.4,326.9 486.5,340.0C486.6,347.5 486.6,362.9 486.7,363.5C487.0,365.8 487.2,367.0 487.5,367.0C487.8,367.0 488.0,365.8 488.3,363.5C488.4,362.9 488.4,346.4 488.5,340.0C488.6,328.8 488.7,320.8 488.8,319.8C489.1,317.5 489.4,316.3 489.7,316.3C490.0,316.3 490.3,317.5 490.6,319.8C490.6,320.5 490.7,332.8 490.8,340.0C490.9,345.8 490.9,357.7 491.0,358.2C491.3,360.5 491.7,361.7 492.0,361.7C492.3,361.7 492.7,360.5 493.0,358.2C493.2,357.0 493.3,330.6 493.5,320.0C493.7,306.2 493.9,291.1 494.1,289.3C494.4,287.0 494.7,285.8 495.0,285.8C495.3,285.8 495.6,287.0 495.9,289.3C496.1,291.1 496.3,310.8 496.5,320.0C496.8,334.1 497.2,345.9 497.5,355.0C497.8,362.2 498.0,367.2 498.3,371.7C498.7,378.5 499.1,381.8 499.5,385.0C499.9,388.4 500.4,390.8 500.8,390.8C501.5,390.8 502.3,388.7 503.0,388.0C503.7,387.4 504.3,386.7 505.0,386.7C505.5,386.7 506.0,391.6 506.5,395.0C507.1,399.1 507.7,406.5 508.3,410.0C508.9,413.3 509.4,414.3 510.0,416.0C510.6,417.7 511.1,420.0 511.7,420.0C512.1,420.0 512.6,416.3 513.0,415.0C513.4,413.8 513.8,412.5 514.2,412.5C514.6,412.5 515.1,417.3 515.5,420.0C516.0,423.1 516.5,430.0 517.0,430.0C517.4,430.0 517.9,422.1 518.3,415.0C518.7,408.5 519.1,396.1 519.5,390.0C519.9,383.4 520.4,378.3 520.8,378.3C521.2,378.3 521.6,381.6 522.0,383.0C522.4,384.5 522.9,386.7 523.3,386.7C523.9,386.7 524.4,376.2 525.0,372.0C525.7,367.0 526.3,360.0 527.0,360.0C527.7,360.0 528.3,368.2 529.0,372.0C529.9,377.2 530.8,386.7 531.7,386.7C532.2,386.7 532.8,383.3 533.3,382.0C533.8,380.9 534.2,379.2 534.7,379.2C535.0,379.2 535.4,385.1 535.7,388.0C536.0,390.9 536.4,396.7 536.7,396.7C537.4,396.7 538.0,392.5 538.7,392.5C539.1,392.5 539.6,401.3 540.0,405.0C540.8,412.2 541.7,421.7 542.5,421.7C543.5,421.7 544.5,419.7 545.5,419.0C546.4,418.3 547.4,418.5 548.3,417.5C548.9,416.9 549.4,410.5 550.0,405.0C550.4,400.8 550.9,393.5 551.3,390.0C551.7,386.8 552.1,384.2 552.5,384.2C553.0,384.2 553.5,389.6 554.0,392.0C554.6,394.9 555.2,400.0 555.8,400.0C556.6,400.0 557.5,398.3 558.3,398.3C559.0,398.3 559.8,402.3 560.5,404.0C561.2,405.6 561.8,408.3 562.5,408.3C563.3,408.3 564.2,405.8 565.0,405.8C565.7,405.8 566.3,408.7 567.0,410.0C567.7,411.5 568.5,414.2 569.2,414.2C570.0,414.2 570.7,413.7 571.5,413.5C572.1,413.4 572.7,413.3 573.3,413.3C573.9,413.3 574.4,416.3 575.0,418.0C575.6,419.7 576.1,423.3 576.7,423.3C577.3,423.3 577.9,416.3 578.5,412.0C579.0,408.4 579.5,402.9 580.0,400.0C580.4,397.5 580.9,395.0 581.3,395.0C581.8,395.0 582.3,404.2 582.8,410.0C583.3,415.4 583.7,428.3 584.2,428.3C584.7,428.3 585.3,423.5 585.8,422.0C586.4,420.4 586.9,419.6 587.5,419.2C588.2,418.7 588.8,418.6 589.5,418.5C590.2,418.4 591.0,418.3 591.7,418.3C592.2,418.3 592.8,420.2 593.3,421.0C593.9,421.9 594.4,423.3 595.0,423.3C595.4,423.3 595.9,416.4 596.3,414.0C596.7,411.8 597.1,409.2 597.5,409.2C598.2,409.2 598.8,414.0 599.5,416.0C600.2,418.2 601.0,421.1 601.7,421.7C602.4,422.2 603.0,422.5 603.7,422.5C604.4,422.5 605.1,422.5 605.8,422.5C606.5,422.5 607.3,415.5 608.0,412.0C608.9,407.5 609.9,401.7 610.8,398.3C611.5,395.6 612.3,393.9 613.0,392.5C613.6,391.4 614.1,390.3 614.7,390.3C615.1,390.3 615.6,393.0 616.0,394.0C616.5,395.2 617.0,396.7 617.5,396.7C618.0,396.7 618.5,396.5 619.0,396.5C619.6,396.5 620.2,396.6 620.8,396.7C621.5,396.9 622.3,402.1 623.0,405.0C623.7,407.6 624.3,413.3 625.0,413.3C625.6,413.3 626.1,409.3 626.7,408.0C627.2,406.8 627.8,405.8 628.3,405.8C628.7,405.8 629.1,409.3 629.5,411.0C629.9,412.9 630.4,416.7 630.8,416.7C631.2,416.7 631.6,412.5 632.0,411.0C632.3,409.8 632.7,408.3 633.0,408.3C633.5,408.3 634.0,409.9 634.5,410.5C634.9,411.0 635.4,411.0 635.8,411.7C636.4,412.6 636.9,414.5 637.5,416.0C638.1,417.5 638.6,419.4 639.2,420.8C639.8,422.3 640.4,423.4 641.0,424.5C641.5,425.4 642.0,427.0 642.5,427.0C642.9,427.0 643.3,420.6 643.7,418.0C644.0,415.9 644.4,413.6 644.7,412.5C645.3,410.5 645.9,410.2 646.5,409.5C647.1,408.8 647.7,408.0 648.3,408.0C648.9,408.0 649.4,409.4 650.0,410.0C650.6,410.6 651.1,411.7 651.7,411.7C652.3,411.7 652.9,407.9 653.5,406.0C654.3,403.5 655.0,400.1 655.8,398.3C656.5,396.6 657.3,396.2 658.0,395.5C658.7,394.9 659.3,394.2 660.0,394.2C660.6,394.2 661.1,395.8 661.7,396.5C662.2,397.2 662.8,398.3 663.3,398.3C664.0,398.3 664.8,397.9 665.5,397.8C666.2,397.7 666.8,397.5 667.5,397.5C668.1,397.5 668.6,399.1 669.2,400.0C669.7,400.8 670.3,402.5 670.8,402.5C671.4,402.5 671.9,401.4 672.5,401.0C673.1,400.6 673.6,400.7 674.2,400.0C674.6,399.5 675.1,394.6 675.5,392.0C676.2,388.0 676.8,380.8 677.5,380.8C678.1,380.8 678.6,381.1 679.2,381.5C679.7,381.9 680.3,382.4 680.8,383.3C681.6,384.7 682.5,387.9 683.3,390.0C684.1,392.1 685.0,395.8 685.8,395.8C686.5,395.8 687.3,390.2 688.0,388.0C688.9,385.2 689.9,381.7 690.8,381.7C691.2,381.7 691.6,384.2 692.0,386.0C692.4,388.0 692.9,390.5 693.3,393.3C694.0,398.0 694.8,404.9 695.5,410.0C696.2,414.6 696.8,422.5 697.5,422.5C698.1,422.5 698.6,414.2 699.2,410.0C699.7,406.1 700.3,401.3 700.8,398.3C701.4,395.1 701.9,393.7 702.5,392.0C703.1,390.3 703.6,389.2 704.2,388.3C705.1,386.8 706.1,386.7 707.0,386.0C708.0,385.3 709.0,385.4 710.0,384.2C710.4,383.7 710.9,377.9 711.3,375.0C711.7,372.3 712.1,367.5 712.5,367.5C713.3,367.5 714.2,367.5 715.0,367.5C716.1,367.5 717.2,368.3 718.3,368.3C718.9,368.3 719.4,365.2 720.0,364.0C720.6,362.8 721.1,361.4 721.7,360.8C722.2,360.3 722.8,360.5 723.3,360.0C723.9,359.4 724.4,358.9 725.0,356.7C725.4,355.0 725.9,336.7 726.3,336.7C726.9,336.7 727.4,341.0 728.0,341.0C728.5,341.0 729.0,335.5 729.5,330.0C730.0,324.5 730.5,311.1 731.0,308.0C731.5,304.9 732.0,304.6 732.5,303.3C733.0,302.0 733.5,301.7 734.0,300.0C734.7,297.7 735.3,293.4 736.0,290.0C736.8,286.1 737.5,278.3 738.3,278.3C738.8,278.3 739.3,285.5 739.8,300.0C740.0,306.8 740.3,345.7 740.5,347.3C740.8,349.6 741.2,350.8 741.5,350.8C741.8,350.8 742.2,349.6 742.5,347.3C742.7,346.1 742.8,335.3 743.0,330.0C743.7,308.9 744.3,300.3 745.0,290.0C745.7,279.7 746.3,273.7 747.0,268.0C747.5,263.7 748.0,261.6 748.5,258.0C749.0,254.4 749.5,246.7 750.0,246.7C750.5,246.7 751.0,252.0 751.5,252.0C751.9,252.0 752.4,247.3 752.8,245.0C753.3,242.5 753.7,240.3 754.2,237.5C754.7,234.3 755.3,233.8 755.8,226.7C756.2,221.4 756.6,210.5 757.0,205.0C757.4,199.1 757.9,196.5 758.3,193.3C759.2,186.6 760.1,185.5 761.0,182.0C762.1,177.9 763.1,170.8 764.2,170.8C764.7,170.8 765.3,173.9 765.8,180.0C766.1,183.5 766.4,219.7 766.7,250.0C766.9,270.2 767.1,302.0 767.3,320.0C767.5,338.0 767.7,349.6 767.9,358.0C768.0,363.6 768.2,368.1 768.3,369.0C768.6,371.3 769.0,372.5 769.3,372.5C769.6,372.5 770.0,371.3 770.3,369.0C770.4,368.1 770.6,364.5 770.7,358.0C770.9,349.8 771.0,329.8 771.2,320.0C771.5,304.3 771.7,297.1 772.0,295.0C772.4,291.7 772.9,290.0 773.3,290.0C773.6,290.0 774.0,296.4 774.3,300.0C774.6,303.6 775.0,311.7 775.3,311.7C775.7,311.7 776.1,301.1 776.5,280.0C776.6,272.1 776.8,253.0 776.9,251.8C777.2,249.5 777.5,248.3 777.8,248.3C778.1,248.3 778.4,249.5 778.6,251.8C778.8,252.8 778.9,267.3 779.0,270.0C779.3,277.8 779.7,281.7 780.0,281.7C780.4,281.7 780.8,280.7 781.2,280.0C781.6,279.3 782.1,277.5 782.5,277.5C783.0,277.5 783.5,280.0 784.0,285.0C784.3,288.3 784.7,296.7 785.0,320.0C785.1,330.5 785.3,357.4 785.5,370.0C785.6,385.4 785.8,396.9 786.0,398.2C786.3,400.5 786.7,401.7 787.0,401.7C787.3,401.7 787.7,400.5 788.0,398.2C788.2,396.9 788.4,371.4 788.5,360.0C788.8,346.5 789.0,326.1 789.2,325.0C789.7,322.3 790.3,322.3 790.8,321.0C791.4,319.6 791.9,319.6 792.5,316.7C793.0,314.2 793.5,301.4 794.0,295.0C794.6,287.4 795.2,275.8 795.8,275.8C796.4,275.8 796.9,283.7 797.5,287.0C798.1,290.3 798.6,295.8 799.2,295.8C799.8,295.8 800.4,283.0 801.0,275.0C801.5,268.5 802.0,257.4 802.4,253.5C802.7,251.2 803.0,250.0 803.3,250.0C803.6,250.0 803.9,251.2 804.1,253.5C804.4,255.8 804.7,268.9 805.0,275.0C805.6,287.1 806.1,294.2 806.7,298.3C807.1,301.4 807.6,301.7 808.0,303.0C808.5,304.5 809.0,306.7 809.5,306.7C810.2,306.7 810.8,295.6 811.5,290.0C812.1,285.0 812.7,281.1 813.3,275.0C813.9,269.3 814.4,260.7 815.0,255.0C815.6,249.3 816.1,241.3 816.7,240.8C817.3,240.3 817.9,240.5 818.5,240.0C819.3,239.3 820.0,228.7 820.8,228.7C821.4,228.7 821.9,232.5 822.5,240.0C823.1,247.5 823.6,270.4 824.2,290.0C824.6,305.0 825.1,328.1 825.5,340.0C826.0,353.7 826.5,359.1 827.0,362.0C827.4,364.5 827.9,365.8 828.3,365.8C828.7,365.8 829.1,363.2 829.5,362.0C829.9,360.7 830.4,358.3 830.8,358.3C831.4,358.3 831.9,367.7 832.5,375.0C832.9,380.2 833.3,390.4 833.7,393.2C834.0,395.5 834.4,396.7 834.7,396.7C835.0,396.7 835.4,395.5 835.7,393.2C836.0,391.3 836.2,376.7 836.5,370.0C837.1,354.9 837.7,350.4 838.3,340.0C839.0,327.3 839.8,310.4 840.5,300.0C840.9,294.5 841.3,288.9 841.6,286.0C841.9,283.9 842.2,282.5 842.5,282.5C842.8,282.5 843.1,283.7 843.4,286.0C843.7,289.2 844.1,301.7 844.5,310.0C845.0,320.5 845.5,321.0 846.0,343.0C846.1,351.3 846.3,373.5 846.5,374.8C846.8,377.1 847.2,378.3 847.5,378.3C847.8,378.3 848.2,377.1 848.5,374.8C848.7,373.2 849.0,340.8 849.2,330.0C849.6,310.0 850.1,304.2 850.5,300.0C850.9,296.1 851.3,294.2 851.7,294.2C852.5,294.2 853.4,295.0 854.2,295.0C854.8,295.0 855.4,281.2 856.0,275.0C856.5,270.0 857.0,263.8 857.4,260.8C857.7,259.0 858.0,257.3 858.3,257.3C858.6,257.3 858.9,258.5 859.1,260.8C859.6,264.4 860.0,274.4 860.5,280.0C861.2,288.3 861.8,293.7 862.5,300.0C863.2,306.3 863.8,313.3 864.5,318.0C865.2,323.2 866.0,329.0 866.7,329.0C867.3,329.0 867.9,313.2 868.5,300.0C868.7,295.2 868.9,286.1 869.1,284.3C869.4,282.0 869.7,280.8 870.0,280.8C870.3,280.8 870.6,282.0 870.9,284.3C871.1,286.1 871.3,293.4 871.5,300.0C871.8,310.1 872.2,327.4 872.5,340.0C872.9,356.3 873.4,370.9 873.8,385.0C873.9,389.3 874.1,396.9 874.2,397.8C874.5,400.1 874.9,401.3 875.2,401.3C875.5,401.3 875.8,400.1 876.1,397.8C876.2,397.3 876.2,378.1 876.3,370.0C876.4,355.8 876.5,338.7 876.6,337.7C876.9,335.4 877.2,334.2 877.5,334.2C877.8,334.2 878.1,335.4 878.4,337.7C878.6,339.5 878.8,353.1 879.0,365.0C879.1,370.5 879.2,382.5 879.3,383.2C879.6,385.5 880.0,386.7 880.3,386.7C880.6,386.7 881.0,385.5 881.3,383.2C881.5,381.6 881.8,373.2 882.0,370.0C882.6,362.2 883.1,358.3 883.7,358.3C884.0,358.3 884.4,367.2 884.7,385.0C884.8,388.6 884.8,418.5 884.9,419.0C885.2,421.3 885.5,422.5 885.8,422.5C886.1,422.5 886.5,421.3 886.8,419.0C886.9,418.5 886.9,395.5 887.0,395.0C887.7,389.5 888.5,390.6 889.2,386.7C889.8,383.5 890.4,379.2 891.0,375.0C891.8,369.6 892.5,357.0 893.3,357.0C893.6,357.0 894.0,364.5 894.3,368.0C894.6,371.5 895.0,378.0 895.3,378.0C895.7,378.0 896.1,370.7 896.5,368.0C896.8,365.7 897.2,362.5 897.5,362.5C897.9,362.5 898.4,369.1 898.8,372.0C899.2,374.7 899.6,379.5 900.0,379.5C900.5,379.5 901.0,371.1 901.5,368.0C902.0,364.9 902.5,360.8 903.0,360.8C903.3,360.8 903.7,368.9 904.0,385.0C904.1,388.2 904.1,404.8 904.2,405.7C904.4,408.0 904.5,409.2 904.7,409.2C905.0,409.2 905.3,408.0 905.6,405.7C905.7,405.2 905.7,386.4 905.8,385.0C906.2,376.3 906.6,374.3 907.0,372.0C907.4,369.5 907.9,370.2 908.3,368.3C908.8,366.3 909.2,362.3 909.7,360.0C910.2,357.5 910.7,354.2 911.2,354.2C911.7,354.2 912.2,361.9 912.7,365.0C913.2,368.1 913.7,371.3 914.2,372.5C914.6,373.5 915.1,374.0 915.5,374.0C915.9,374.0 916.3,372.5 916.7,372.5C917.1,372.5 917.4,379.2 917.8,383.0C918.1,386.5 918.5,394.2 918.8,394.2C919.2,394.2 919.6,382.4 920.0,378.0C920.4,373.3 920.9,367.5 921.3,367.5C921.8,367.5 922.2,370.8 922.7,372.0C923.2,373.3 923.7,375.0 924.2,375.0C924.6,375.0 925.1,370.1 925.5,365.0C926.0,359.1 926.5,348.5 927.0,340.0C927.3,335.2 927.6,327.8 927.9,325.5C928.1,323.2 928.4,322.0 928.7,322.0C929.0,322.0 929.3,323.2 929.6,325.5C929.7,326.7 929.9,339.1 930.0,345.0C930.4,361.9 930.9,371.9 931.3,380.0C931.7,387.5 932.1,393.3 932.5,393.3C933.0,393.3 933.5,382.0 934.0,378.0C934.6,373.1 935.2,368.0 935.8,368.0C936.3,368.0 936.8,373.9 937.3,380.0C937.6,384.1 938.0,390.0 938.3,395.0C938.9,403.4 939.4,412.8 940.0,420.0C940.8,430.6 941.7,444.2 942.5,444.2C943.3,444.2 944.2,437.1 945.0,435.0C945.8,432.9 946.7,433.9 947.5,431.7C948.0,430.4 948.5,429.5 949.0,425.0C949.2,422.9 949.5,399.5 949.7,380.0C949.9,363.3 950.1,330.0 950.3,320.0C950.6,303.3 951.0,297.2 951.3,295.0C951.7,292.3 952.1,292.5 952.5,291.0C953.0,289.2 953.5,289.0 954.0,285.0C954.5,281.0 955.0,269.9 955.5,260.0C956.0,249.1 956.6,226.0 957.1,221.5C957.4,219.2 957.7,218.0 958.0,218.0C958.3,218.0 958.6,219.2 958.9,221.5C959.1,223.3 959.3,257.6 959.5,270.0C959.8,285.3 960.0,299.0 960.3,299.0C960.9,299.0 961.4,291.0 962.0,288.0C962.6,285.0 963.1,280.8 963.7,280.8C963.9,280.8 964.1,300.4 964.2,310.0C964.4,319.6 964.6,336.9 964.8,338.2C965.1,340.5 965.5,341.7 965.8,341.7C966.1,341.7 966.5,340.5 966.8,338.2C967.0,336.9 967.2,317.3 967.3,310.0C967.7,297.4 968.0,292.2 968.3,290.8C968.9,288.3 969.4,288.5 970.0,287.0C970.7,285.3 971.3,282.8 972.0,281.0C972.7,279.0 973.5,275.8 974.2,275.8C974.8,275.8 975.4,277.0 976.0,277.0C976.7,277.0 977.3,273.3 978.0,273.3C978.4,273.3 978.8,281.6 979.2,295.0C979.5,303.9 979.7,319.2 980.0,330.0C980.3,340.8 980.5,356.0 980.8,360.0C981.2,366.0 981.6,366.6 982.0,369.0C982.4,371.6 982.9,373.1 983.3,375.0C983.7,376.8 984.1,378.0 984.5,380.0C984.9,382.2 985.4,385.3 985.8,388.0" fill="none" stroke="#d9e4ee" stroke-width="2" stroke-linejoin="round" stroke-linecap="round"/>
  <path d="M91.7,457.5C92.8,456.7 93.9,455.6 95.0,455.0C96.4,454.2 97.8,453.7 99.2,453.7C100.0,453.7 100.9,456.5 101.7,457.5C102.8,458.8 103.9,459.2 105.0,460.0C105.8,460.6 106.7,461.7 107.5,461.7C108.1,461.7 108.6,456.0 109.2,454.2C109.9,452.0 110.6,450.8 111.3,450.8C112.0,450.8 112.6,453.1 113.3,454.2C114.1,455.6 115.0,457.3 115.8,458.3C116.6,459.3 117.5,460.0 118.3,460.0C119.7,460.0 121.1,460.0 122.5,460.0C123.6,460.0 124.7,458.4 125.8,457.5C126.9,456.6 128.1,454.7 129.2,454.7C130.6,454.7 131.9,455.1 133.3,455.8C134.1,456.2 135.0,458.3 135.8,458.3C136.9,458.3 138.1,455.0 139.2,455.0C140.3,455.0 141.4,455.0 142.5,455.0C143.9,455.0 145.3,453.7 146.7,453.7C147.5,453.7 148.4,455.8 149.2,455.8C150.6,455.8 151.9,451.7 153.3,451.7C154.1,451.7 155.0,452.7 155.8,453.3C156.9,454.1 158.1,454.6 159.2,455.8C160.0,456.7 160.9,458.8 161.7,459.2C162.8,459.7 163.9,460.0 165.0,460.0C165.6,460.0 166.1,455.8 166.7,455.8C167.2,455.8 167.8,460.0 168.3,460.0C169.4,460.0 170.6,458.3 171.7,458.3C173.1,458.3 174.4,459.2 175.8,459.2C177.2,459.2 178.6,455.0 180.0,455.0C181.7,455.0 183.3,455.1 185.0,455.3C186.1,455.4 187.2,458.3 188.3,458.3C189.4,458.3 190.6,457.4 191.7,456.7C192.8,456.0 193.9,454.5 195.0,454.2C196.4,453.9 197.8,453.7 199.2,453.7C200.3,453.7 201.4,457.5 202.5,457.5C203.6,457.5 204.7,456.5 205.8,455.8C206.9,455.1 208.1,453.3 209.2,453.3C210.3,453.3 211.4,453.4 212.5,453.7C213.9,454.0 215.3,456.6 216.7,457.5C218.1,458.4 219.4,458.8 220.8,459.2C222.2,459.6 223.6,460.0 225.0,460.0C225.8,460.0 226.7,455.8 227.5,455.8C228.3,455.8 229.2,459.5 230.0,460.0C230.8,460.5 231.7,460.8 232.5,460.8C233.1,460.8 233.6,456.7 234.2,456.7C235.3,456.7 236.4,458.9 237.5,460.0C238.6,461.1 239.7,462.5 240.8,463.3C241.9,464.2 243.1,465.0 244.2,465.0C245.3,465.0 246.4,463.3 247.5,462.5C248.9,461.5 250.3,460.0 251.7,460.0C252.8,460.0 253.9,460.0 255.0,460.0C256.4,460.0 257.8,464.2 259.2,464.2C260.3,464.2 261.4,461.2 262.5,461.0C263.3,460.9 264.2,460.8 265.0,460.8C266.7,460.8 268.3,465.0 270.0,465.0C272.2,465.0 274.5,463.1 276.7,462.5C278.4,462.1 280.0,461.7 281.7,461.7C282.8,461.7 283.9,465.0 285.0,465.0C285.8,465.0 286.7,454.2 287.5,454.2C289.2,454.2 290.8,462.5 292.5,462.5C294.7,462.5 297.0,457.5 299.2,457.5C301.4,457.5 303.6,464.2 305.8,464.2C307.8,464.2 309.7,462.1 311.7,460.0C313.4,458.2 315.0,453.3 316.7,453.3C318.9,453.3 321.1,457.1 323.3,458.3C325.5,459.6 327.8,460.8 330.0,460.8C332.8,460.8 335.5,460.0 338.3,460.0C339.7,460.0 341.1,461.7 342.5,461.7C344.4,461.7 346.4,457.5 348.3,457.5C350.0,457.5 351.6,462.5 353.3,462.5C355.5,462.5 357.8,454.2 360.0,454.2C362.2,454.2 364.5,459.2 366.7,459.2C369.5,459.2 372.2,458.3 375.0,458.3C377.8,458.3 380.5,464.2 383.3,464.2C385.3,464.2 387.2,456.7 389.2,456.7C391.1,456.7 393.1,461.7 395.0,461.7C397.2,461.7 399.5,458.3 401.7,458.3C403.9,458.3 406.1,463.3 408.3,463.3C410.0,463.3 411.6,462.5 413.3,462.5C415.5,462.5 417.8,465.8 420.0,465.8C421.3,465.8 422.7,464.9 424.0,464.0C424.9,463.4 425.8,463.2 426.7,461.7C427.2,460.8 427.8,456.7 428.3,456.7C428.9,456.7 429.4,460.0 430.0,460.0C431.4,460.0 432.8,453.3 434.2,453.3C435.3,453.3 436.4,465.0 437.5,465.0C438.9,465.0 440.3,460.0 441.7,460.0C442.8,460.0 443.9,460.8 445.0,460.8C446.4,460.8 447.8,456.7 449.2,456.7C450.6,456.7 451.9,460.0 453.3,460.0C454.7,460.0 456.1,460.0 457.5,460.0C458.3,460.0 459.2,473.4 460.0,476.7C460.8,480.0 461.7,481.7 462.5,481.7C463.1,481.7 463.6,476.8 464.2,473.3C465.0,468.2 465.9,453.3 466.7,453.3C467.8,453.3 468.9,458.3 470.0,458.3C471.1,458.3 472.2,455.0 473.3,455.0C474.7,455.0 476.1,458.3 477.5,458.3C478.3,458.3 479.2,451.7 480.0,449.2C481.1,445.8 482.2,442.8 483.3,441.7C484.4,440.6 485.6,441.1 486.7,440.0C487.8,438.9 488.9,433.3 490.0,433.3C491.1,433.3 492.2,441.7 493.3,441.7C494.1,441.7 495.0,435.8 495.8,435.8C496.6,435.8 497.5,437.8 498.3,441.7C498.9,444.4 499.4,453.3 500.0,453.3C500.6,453.3 501.1,452.5 501.7,451.7C502.5,450.6 503.4,446.7 504.2,446.7C505.3,446.7 506.4,448.4 507.5,451.7C508.6,455.0 509.7,462.0 510.8,466.7C511.6,470.2 512.5,475.9 513.3,476.7C514.4,477.8 515.6,478.3 516.7,478.3C517.8,478.3 518.9,470.2 520.0,465.0C520.8,461.0 521.7,456.0 522.5,451.7C523.3,447.4 524.2,439.2 525.0,439.2C525.8,439.2 526.7,451.0 527.5,453.3C528.3,455.6 529.2,456.7 530.0,456.7C531.1,456.7 532.2,454.2 533.3,454.2C534.4,454.2 535.6,456.1 536.7,460.0C537.5,462.8 538.4,471.4 539.2,475.0C540.0,478.6 540.9,481.5 541.7,481.7C543.9,482.2 546.1,482.5 548.3,482.5C549.4,482.5 550.6,472.7 551.7,468.3C552.8,464.1 553.9,459.5 555.0,456.7C556.1,453.9 557.2,453.7 558.3,451.7C559.4,449.6 560.6,444.2 561.7,444.2C562.2,444.2 562.8,452.5 563.3,456.7C564.1,463.3 565.0,473.4 565.8,476.7C566.6,480.0 567.5,481.5 568.3,481.7C570.5,482.2 572.8,482.5 575.0,482.5C576.7,482.5 578.3,480.0 580.0,480.0C581.7,480.0 583.3,483.3 585.0,483.3C586.7,483.3 588.3,482.8 590.0,482.5C591.1,482.3 592.2,482.1 593.3,481.7C594.4,481.3 595.6,480.0 596.7,480.0C597.8,480.0 598.9,481.7 600.0,481.7C600.6,481.7 601.1,481.6 601.7,481.6C603.4,481.6 605.0,482.5 606.7,482.5C608.6,482.5 610.6,479.1 612.5,479.1C614.4,479.1 616.4,479.6 618.3,480.0C620.5,480.4 622.8,480.9 625.0,481.6C626.7,482.1 628.3,483.3 630.0,483.3C630.8,483.3 631.7,480.0 632.5,480.0C633.9,480.0 635.3,482.1 636.7,482.5C638.4,483.0 640.0,483.3 641.7,483.3C643.9,483.3 646.1,480.8 648.3,480.8C650.5,480.8 652.8,480.8 655.0,480.8C656.9,480.8 658.9,477.5 660.8,477.5C662.2,477.5 663.6,477.8 665.0,478.3C666.4,478.8 667.8,481.6 669.2,481.6C671.1,481.6 673.1,480.4 675.0,480.0C677.2,479.5 679.5,479.1 681.7,479.1C683.1,479.1 684.4,480.0 685.8,480.0C687.2,480.0 688.6,477.5 690.0,477.5C691.7,477.5 693.3,481.6 695.0,481.6C697.2,481.6 699.5,480.5 701.7,480.0C703.4,479.7 705.0,479.7 706.7,479.1C708.1,478.6 709.4,475.8 710.8,475.8C711.9,475.8 713.1,478.3 714.2,478.3C716.4,478.3 718.6,477.5 720.8,477.5C723.3,477.5 725.8,479.1 728.3,479.1C729.4,479.1 730.6,476.4 731.7,475.8C733.9,474.7 736.1,474.1 738.3,474.1C739.1,474.1 740.0,477.5 740.8,477.5C742.5,477.5 744.1,472.5 745.8,472.5C747.8,472.5 749.7,473.3 751.7,473.3C753.1,473.3 754.4,473.0 755.8,472.5C756.9,472.1 758.1,467.0 759.2,466.6C760.9,466.1 762.5,465.8 764.2,465.8C765.0,465.8 765.9,470.9 766.7,473.3C767.5,475.7 768.4,480.0 769.2,480.0C770.0,480.0 770.9,476.6 771.7,476.6C772.8,476.6 773.9,477.5 775.0,477.5C775.6,477.5 776.1,476.6 776.7,476.6C778.4,476.6 780.0,477.3 781.7,478.3C783.4,479.3 785.0,482.5 786.7,482.5C788.4,482.5 790.0,479.6 791.7,479.1C793.6,478.6 795.6,478.8 797.5,478.3C799.2,477.8 800.8,475.8 802.5,475.8C803.6,475.8 804.7,477.0 805.8,477.5C807.2,478.1 808.6,479.1 810.0,479.1C811.7,479.1 813.3,478.0 815.0,477.5C816.7,477.0 818.3,476.3 820.0,476.3C821.1,476.3 822.2,476.8 823.3,477.5C824.7,478.4 826.1,481.2 827.5,481.6C829.4,482.2 831.4,482.5 833.3,482.5C834.4,482.5 835.6,481.6 836.7,480.8C838.4,479.6 840.0,475.8 841.7,475.8C842.8,475.8 843.9,478.3 845.0,479.1C846.1,479.9 847.2,480.8 848.3,480.8C849.7,480.8 851.1,479.0 852.5,478.3C854.2,477.5 855.8,476.3 857.5,476.3C858.9,476.3 860.3,478.3 861.7,478.3C863.4,478.3 865.0,478.3 866.7,478.3C868.1,478.3 869.4,475.0 870.8,475.0C871.9,475.0 873.1,475.3 874.2,475.8C874.7,476.1 875.3,480.3 875.8,480.8C876.9,481.9 878.1,481.8 879.2,482.5C880.3,483.2 881.4,485.0 882.5,485.0C884.4,485.0 886.4,485.0 888.3,485.0C890.0,485.0 891.6,483.3 893.3,483.3C896.1,483.3 898.9,483.3 901.7,483.3C903.9,483.3 906.1,480.8 908.3,480.8C911.1,480.8 913.9,480.8 916.7,480.8C918.4,480.8 920.0,477.8 921.7,477.8C922.8,477.8 923.9,478.3 925.0,478.3C926.1,478.3 927.2,475.3 928.3,475.3C929.4,475.3 930.6,477.5 931.7,478.3C933.1,479.2 934.4,479.1 935.8,480.0C937.2,481.0 938.6,483.5 940.0,484.1C941.4,484.7 942.8,485.0 944.2,485.0C945.9,485.0 947.5,484.1 949.2,482.5C950.3,481.4 951.4,478.3 952.5,478.3C953.6,478.3 954.7,480.0 955.8,480.0C956.6,480.0 957.5,477.5 958.3,477.5C959.1,477.5 960.0,480.0 960.8,480.0C961.9,480.0 963.1,478.3 964.2,477.5C965.6,476.6 966.9,475.0 968.3,475.0C970.0,475.0 971.6,475.0 973.3,475.0C974.7,475.0 976.1,472.5 977.5,472.5C978.3,472.5 979.2,475.9 980.0,477.5C980.6,478.6 981.1,480.3 981.7,480.8C983.1,481.9 984.4,481.9 985.8,482.5" fill="none" stroke="#1f8790" stroke-width="2.5" stroke-linejoin="round" stroke-linecap="round"/>
  <path d="M91.7,470.0C92.8,469.7 93.9,469.7 95.0,469.2C95.8,468.8 96.7,468.4 97.5,466.7C98.1,465.6 98.6,461.7 99.2,461.7C100.0,461.7 100.9,465.9 101.7,466.7C102.8,467.8 103.9,468.3 105.0,468.3C106.7,468.3 108.3,468.3 110.0,468.3C111.7,468.3 113.3,469.2 115.0,469.2C116.1,469.2 117.2,467.5 118.3,467.5C119.7,467.5 121.1,468.3 122.5,468.3C123.3,468.3 124.2,466.2 125.0,465.0C125.6,464.2 126.1,462.5 126.7,462.5C127.5,462.5 128.4,466.8 129.2,467.5C130.6,468.6 131.9,468.8 133.3,469.2C134.4,469.6 135.6,470.0 136.7,470.0C138.4,470.0 140.0,468.7 141.7,468.3C143.9,467.8 146.1,468.0 148.3,467.5C149.4,467.2 150.6,466.9 151.7,465.8C152.2,465.3 152.8,460.8 153.3,460.8C154.1,460.8 155.0,463.9 155.8,465.0C157.2,466.9 158.6,467.2 160.0,468.3C161.1,469.1 162.2,470.8 163.3,470.8C165.0,470.8 166.6,470.2 168.3,470.0C170.5,469.7 172.8,469.7 175.0,469.2C176.4,468.9 177.8,468.4 179.2,466.7C180.0,465.7 180.9,460.8 181.7,460.8C182.5,460.8 183.4,464.8 184.2,465.8C185.6,467.5 186.9,467.6 188.3,468.3C190.0,469.1 191.6,469.5 193.3,470.0C195.5,470.7 197.8,471.2 200.0,471.7C201.1,472.0 202.2,472.5 203.3,472.5C204.4,472.5 205.6,471.4 206.7,469.2C207.5,467.6 208.4,461.7 209.2,461.7C210.0,461.7 210.9,465.9 211.7,466.7C213.4,468.4 215.0,468.5 216.7,469.2C218.4,469.9 220.0,470.8 221.7,470.8C223.4,470.8 225.0,469.8 226.7,469.2C228.4,468.6 230.0,467.5 231.7,467.5C233.4,467.5 235.0,467.8 236.7,468.3C238.4,468.8 240.0,470.0 241.7,470.8C242.8,471.4 243.9,472.5 245.0,472.5C246.7,472.5 248.3,471.2 250.0,470.8C251.7,470.4 253.3,470.5 255.0,470.0C256.7,469.5 258.3,467.0 260.0,467.0C262.2,467.0 264.5,468.6 266.7,469.2C270.0,470.1 273.4,470.2 276.7,470.8C279.5,471.3 282.2,472.5 285.0,472.5C287.2,472.5 289.5,470.0 291.7,470.0C293.9,470.0 296.1,471.7 298.3,471.7C302.2,471.7 306.1,471.7 310.0,471.7C311.4,471.7 312.8,471.4 314.2,470.8C315.0,470.4 315.9,460.0 316.7,460.0C318.9,460.0 321.1,463.9 323.3,465.0C325.5,466.1 327.8,466.7 330.0,466.7C332.8,466.7 335.5,465.9 338.3,464.2C339.4,463.5 340.6,458.3 341.7,458.3C343.4,458.3 345.0,458.6 346.7,459.2C348.1,459.7 349.4,464.2 350.8,464.2C352.8,464.2 354.7,463.9 356.7,463.3C357.8,463.0 358.9,458.3 360.0,458.3C362.2,458.3 364.5,464.6 366.7,465.0C370.0,465.5 373.4,465.5 376.7,465.8C379.2,466.1 381.7,466.7 384.2,466.7C385.6,466.7 386.9,460.8 388.3,460.8C390.0,460.8 391.6,463.6 393.3,464.2C396.1,465.3 398.9,465.8 401.7,465.8C404.5,465.8 407.2,465.8 410.0,465.8C412.8,465.8 415.5,466.6 418.3,468.3C419.1,468.8 420.0,471.7 420.8,471.7C421.6,471.7 422.5,466.9 423.3,465.0C423.8,463.9 424.3,464.0 424.8,462.0C425.0,461.3 425.1,454.0 425.3,440.0C425.6,414.8 425.9,352.8 426.2,300.0C426.4,258.9 426.7,165.6 426.9,165.6C427.1,165.6 427.4,258.9 427.6,300.0C427.9,352.8 428.2,424.3 428.5,440.0C428.7,452.2 429.0,457.7 429.2,458.3C430.0,460.6 430.9,461.7 431.7,461.7C432.5,461.7 433.4,448.3 434.2,448.3C435.3,448.3 436.4,466.7 437.5,466.7C438.9,466.7 440.3,464.2 441.7,463.3C444.2,461.6 446.7,460.0 449.2,460.0C450.6,460.0 451.9,461.7 453.3,461.7C454.7,461.7 456.1,461.7 457.5,461.7C458.3,461.7 459.2,474.5 460.0,476.7C460.8,478.9 461.7,480.0 462.5,480.0C463.1,480.0 463.6,475.3 464.2,471.7C465.0,466.4 465.9,450.0 466.7,450.0C467.8,450.0 468.9,458.9 470.0,460.0C471.1,461.1 472.2,461.2 473.3,461.7C475.0,462.4 476.6,463.3 478.3,463.3C479.4,463.3 480.6,459.0 481.7,456.7C483.1,454.0 484.4,452.3 485.8,448.3C487.2,444.2 488.6,432.5 490.0,432.5C491.1,432.5 492.2,451.7 493.3,451.7C494.1,451.7 495.0,443.3 495.8,443.3C496.6,443.3 497.5,453.6 498.3,458.3C499.1,463.0 500.0,471.7 500.8,471.7C501.6,471.7 502.5,464.5 503.3,461.7C504.1,458.9 505.0,455.0 505.8,455.0C506.6,455.0 507.5,458.1 508.3,461.7C509.1,465.3 510.0,474.5 510.8,476.7C511.6,478.9 512.5,480.0 513.3,480.0C515.0,480.0 516.6,480.0 518.3,480.0C519.4,480.0 520.6,472.5 521.7,470.0C522.8,467.6 523.9,465.0 525.0,465.0C526.7,465.0 528.3,467.5 530.0,467.5C531.7,467.5 533.3,465.8 535.0,465.8C535.8,465.8 536.7,473.9 537.5,476.7C538.3,479.5 539.2,482.3 540.0,482.5C542.8,483.0 545.5,483.3 548.3,483.3C549.7,483.3 551.1,478.4 552.5,475.0C553.6,472.3 554.7,466.1 555.8,465.8C557.8,465.3 559.7,465.0 561.7,465.0C562.5,465.0 563.4,473.8 564.2,476.7C565.0,479.6 565.9,482.3 566.7,482.5C569.5,483.0 572.2,483.3 575.0,483.3C576.7,483.3 578.3,481.7 580.0,481.7C581.7,481.7 583.3,485.0 585.0,485.0C586.7,485.0 588.3,484.5 590.0,484.2C592.2,483.8 594.5,482.5 596.7,482.5C597.8,482.5 598.9,483.3 600.0,483.3C600.6,483.3 601.1,483.3 601.7,483.3C603.4,483.3 605.0,484.2 606.7,484.2C608.6,484.2 610.6,480.8 612.5,480.8C614.4,480.8 616.4,481.3 618.3,481.7C620.5,482.1 622.8,482.6 625.0,483.3C626.7,483.8 628.3,485.0 630.0,485.0C630.8,485.0 631.7,481.7 632.5,481.7C633.9,481.7 635.3,483.8 636.7,484.2C638.4,484.7 640.0,485.0 641.7,485.0C643.9,485.0 646.1,482.5 648.3,482.5C650.5,482.5 652.8,482.5 655.0,482.5C656.9,482.5 658.9,479.2 660.8,479.2C662.2,479.2 663.6,479.5 665.0,480.0C666.4,480.5 667.8,483.3 669.2,483.3C671.1,483.3 673.1,482.1 675.0,481.7C677.2,481.2 679.5,480.8 681.7,480.8C683.1,480.8 684.4,481.7 685.8,481.7C687.2,481.7 688.6,479.2 690.0,479.2C691.7,479.2 693.3,483.3 695.0,483.3C697.2,483.3 699.5,482.2 701.7,481.7C703.4,481.4 705.0,481.4 706.7,480.8C708.1,480.3 709.4,477.5 710.8,477.5C711.9,477.5 713.1,480.0 714.2,480.0C716.4,480.0 718.6,479.2 720.8,479.2C723.3,479.2 725.8,480.8 728.3,480.8C729.4,480.8 730.6,478.1 731.7,477.5C733.9,476.4 736.1,475.8 738.3,475.8C739.1,475.8 740.0,479.2 740.8,479.2C742.5,479.2 744.1,474.2 745.8,474.2C747.8,474.2 749.7,475.0 751.7,475.0C753.1,475.0 754.4,474.7 755.8,474.2C756.9,473.8 758.1,468.7 759.2,468.3C760.9,467.8 762.5,467.5 764.2,467.5C765.0,467.5 765.9,472.6 766.7,475.0C767.5,477.4 768.4,481.7 769.2,481.7C770.0,481.7 770.9,478.3 771.7,478.3C772.8,478.3 773.9,479.2 775.0,479.2C775.6,479.2 776.1,478.3 776.7,478.3C778.4,478.3 780.0,479.0 781.7,480.0C783.4,481.0 785.0,484.2 786.7,484.2C788.4,484.2 790.0,481.3 791.7,480.8C793.6,480.3 795.6,480.5 797.5,480.0C799.2,479.5 800.8,477.5 802.5,477.5C803.6,477.5 804.7,478.7 805.8,479.2C807.2,479.8 808.6,480.8 810.0,480.8C811.7,480.8 813.3,479.7 815.0,479.2C816.7,478.7 818.3,478.0 820.0,478.0C821.1,478.0 822.2,478.5 823.3,479.2C824.7,480.1 826.1,482.9 827.5,483.3C829.4,483.9 831.4,484.2 833.3,484.2C834.4,484.2 835.6,483.3 836.7,482.5C838.4,481.3 840.0,477.5 841.7,477.5C842.8,477.5 843.9,480.0 845.0,480.8C846.1,481.6 847.2,482.5 848.3,482.5C849.7,482.5 851.1,480.7 852.5,480.0C854.2,479.2 855.8,478.0 857.5,478.0C858.9,478.0 860.3,480.0 861.7,480.0C863.4,480.0 865.0,480.0 866.7,480.0C868.1,480.0 869.4,476.7 870.8,476.7C871.9,476.7 873.1,477.0 874.2,477.5C874.7,477.8 875.3,482.0 875.8,482.5C876.9,483.6 878.1,483.5 879.2,484.2C880.3,484.9 881.4,486.7 882.5,486.7C884.4,486.7 886.4,486.7 888.3,486.7C890.0,486.7 891.6,485.0 893.3,485.0C896.1,485.0 898.9,485.0 901.7,485.0C903.9,485.0 906.1,482.5 908.3,482.5C911.1,482.5 913.9,482.5 916.7,482.5C918.4,482.5 920.0,479.5 921.7,479.5C922.8,479.5 923.9,480.0 925.0,480.0C926.1,480.0 927.2,477.0 928.3,477.0C929.4,477.0 930.6,479.2 931.7,480.0C933.1,480.9 934.4,480.8 935.8,481.7C937.2,482.7 938.6,485.2 940.0,485.8C941.4,486.4 942.8,486.7 944.2,486.7C945.9,486.7 947.5,485.8 949.2,484.2C950.3,483.1 951.4,480.0 952.5,480.0C953.6,480.0 954.7,481.7 955.8,481.7C956.6,481.7 957.5,479.2 958.3,479.2C959.1,479.2 960.0,481.7 960.8,481.7C961.9,481.7 963.1,480.0 964.2,479.2C965.6,478.3 966.9,476.7 968.3,476.7C970.0,476.7 971.6,476.7 973.3,476.7C974.7,476.7 976.1,474.2 977.5,474.2C978.3,474.2 979.2,477.6 980.0,479.2C980.6,480.3 981.1,482.0 981.7,482.5C983.1,483.6 984.4,483.6 985.8,484.2" fill="none" stroke="#3dd5ef" stroke-width="3.1" stroke-linejoin="round" stroke-linecap="round"/>

  <!-- legend markers -->
  <rect x="28" y="331.5" width="11.6" height="19" rx="5.8" ry="5.8" fill="#d5e4f3"/>
  <rect x="1044" y="222.5" width="3.2" height="18.2" rx="1.2" fill="#2cd3ee"/>
  <rect x="1044" y="325.5" width="3.2" height="18.2" rx="1.2" fill="#1f8c9e"/>
  <!-- big logo -->
  <g fill="#1a8cff">
    <polygon points="24,22 40.7,39 40.7,63 24,79.8"/>
    <polygon points="45,43.5 53.6,51 61.7,44 61.7,63 45,79.8"/>
    <polygon points="82.8,22 82.8,63 66.3,79.8 66.3,39"/>
  </g>
  <!-- small logo -->
  <g fill="#1a8cff" transform="translate(892,552.6) scale(0.5612,0.5433) translate(-24,-22)">
    <polygon points="24,22 40.7,39 40.7,63 24,79.8"/>
    <polygon points="45,43.5 53.6,51 61.7,44 61.7,63 45,79.8"/>
    <polygon points="82.8,22 82.8,63 66.3,79.8 66.3,39"/>
  </g>
</svg>

<div id="title" class="abs">Quarterly NFT sales volume declined 2% to $78M in Q1 2025</div>
<div id="subtitle" class="abs">Immutable NFT sales (USD), buyers, and sellers</div>

<div class="yl" style="top:93px">$2.3M</div>
<div class="yl" style="top:137px">$2.0M</div>
<div class="yl" style="top:181px">$<span class="n1">1</span>.8M</div>
<div class="yl" style="top:224px">$<span class="n1">1</span>.5M</div>
<div class="yl" style="top:268px">$<span class="n1">1</span>.3M</div>
<div class="yl" style="top:312px">$<span class="n1">1</span>.0M</div>
<div class="yl" style="top:355px">$0.8M</div>
<div class="yl" style="top:399px">$0.5M</div>
<div class="yl" style="top:443px">$0.3M</div>
<div class="yl" style="top:486px">$0.0M</div>

<div class="yr" style="top:93px">22.5k</div>
<div class="yr" style="top:137px">20.0k</div>
<div class="yr" style="top:181px"><span class="n1">1</span>7.5k</div>
<div class="yr" style="top:224px"><span class="n1">1</span>5.0k</div>
<div class="yr" style="top:268px"><span class="n1">1</span>2.5k</div>
<div class="yr" style="top:312px"><span class="n1">1</span>0.0k</div>
<div class="yr" style="top:355px">7.5k</div>
<div class="yr" style="top:399px">5.0k</div>
<div class="yr" style="top:443px">2.5k</div>
<div class="yr" style="top:486px">0.0k</div>

<div class="xl" style="left:91.7px">Jan-2024</div>
<div class="xl" style="left:207.8px">Feb-2024</div>
<div class="xl" style="left:323.3px">Apr-2024</div>
<div class="xl" style="left:439px">Jun-2024</div>
<div class="xl" style="left:554.6px">Aug-2024</div>
<div class="xl" style="left:670.3px">Oct-2024</div>
<div class="xl" style="left:786px">Dec-2024</div>
<div class="xl" style="left:901.7px">Feb-2025</div>

<div class="rot" id="lsales" style="left:33.4px;top:287.1px;font-size:13px;transform:translate(-50%,-50%) rotate(-90deg) scaleX(1.072);">Sales (USD)</div>
<div class="rot" id="lbuy" style="left:1044.3px;top:272.6px;transform:translate(-50%,-50%) rotate(90deg) scaleX(1.02);">Buyers</div>
<div class="rot" id="lsell" style="left:1044.3px;top:372.9px;transform:translate(-50%,-50%) rotate(90deg) scaleX(1.03);">Sellers</div>

<div id="sep"></div>
<div id="foot"><b>Data as of:</b> March 31, 2025<br><b>Source:</b> Cryptoslam!<br><b>Note:</b> Includes NFT sales across Immutable X and Immutable zkEVM.</div>
<div id="brand">Messari</div>
</body>
</html>
